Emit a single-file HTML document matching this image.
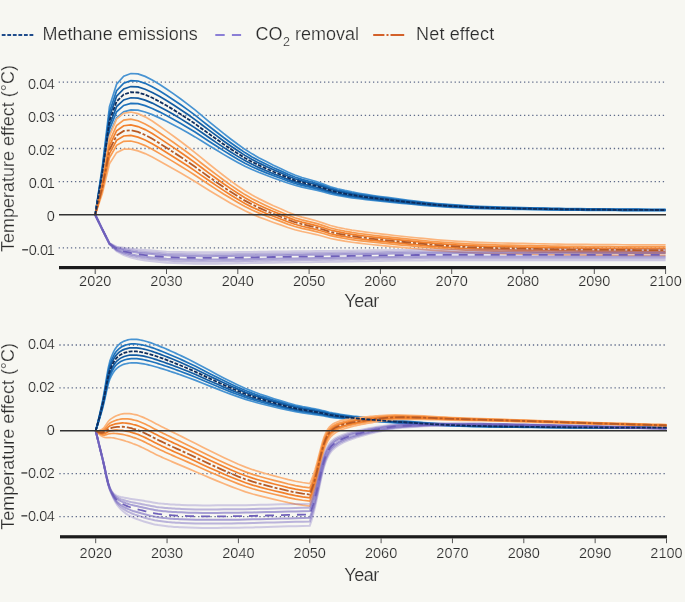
<!DOCTYPE html>
<html><head><meta charset="utf-8"><style>
html,body{margin:0;padding:0;background:#f7f7f2;}
body{width:685px;height:602px;overflow:hidden;font-family:"Liberation Sans", sans-serif;}
svg{display:block;will-change:transform;}
text{stroke:#f7f7f2;stroke-width:0.22px;paint-order:normal;}
</style></head><body>
<svg width="685" height="602" viewBox="0 0 685 602" font-family="Liberation Sans, sans-serif">
<rect width="685" height="602" fill="#f7f7f2"/>
<line x1="1.75" y1="35" x2="33.3" y2="35" stroke="#1f4c8c" stroke-width="1.8" stroke-dasharray="3.8 1.75"/>
<text x="42.6" y="40.3" font-size="18" fill="#2b2b2b">Methane emissions</text>
<line x1="215.3" y1="35" x2="241.1" y2="35" stroke="#8b7fd6" stroke-width="1.8" stroke-dasharray="9.4 7.2"/>
<text x="255.5" y="40.3" font-size="18" fill="#2b2b2b">CO<tspan font-size="12.5" dy="5.4" dx="0.6">2</tspan><tspan dy="-5.4"> removal</tspan></text>
<line x1="373.2" y1="35" x2="404.2" y2="35" stroke="#d3612a" stroke-width="1.8" stroke-dasharray="11.2 2.1 2 2 14"/>
<text x="416.1" y="40.3" font-size="18" letter-spacing="0.15" fill="#2b2b2b">Net effect</text>
<line x1="58.65" y1="82.20" x2="665" y2="82.20" stroke="#5f6b8a" stroke-width="1.3" stroke-dasharray="1.3 2.782"/>
<line x1="58.65" y1="115.35" x2="665" y2="115.35" stroke="#5f6b8a" stroke-width="1.3" stroke-dasharray="1.3 2.782"/>
<line x1="58.65" y1="148.50" x2="665" y2="148.50" stroke="#5f6b8a" stroke-width="1.3" stroke-dasharray="1.3 2.782"/>
<line x1="58.65" y1="181.65" x2="665" y2="181.65" stroke="#5f6b8a" stroke-width="1.3" stroke-dasharray="1.3 2.782"/>
<line x1="58.65" y1="247.95" x2="665" y2="247.95" stroke="#5f6b8a" stroke-width="1.3" stroke-dasharray="1.3 2.782"/>
<polyline points="95.20,214.80 102.33,166.30 109.46,106.73 116.59,84.19 123.72,76.17 130.85,73.50 137.98,73.92 145.11,76.39 152.24,79.97 159.37,84.31 166.50,88.94 173.63,93.85 180.76,99.00 187.89,104.33 195.02,109.91 202.15,115.85 209.28,121.80 216.41,127.64 223.54,133.43 230.67,138.96 237.80,144.27 244.93,149.32 252.06,153.85 259.19,157.88 266.32,161.62 273.45,165.19 280.58,168.55 287.71,172.00 294.84,175.08 301.97,177.45 309.10,179.49 316.23,181.56 323.36,184.09 330.49,186.76 337.62,188.75 344.75,190.45 351.88,191.93 359.01,193.22 366.14,194.39 373.27,195.47 380.40,196.47 387.53,197.46 394.66,198.44 401.79,199.39 408.92,200.29 416.05,201.17 423.18,202.03 430.31,202.83 437.44,203.54 444.57,204.14 451.70,204.70 458.83,205.21 465.96,205.67 473.09,206.07 480.22,206.40 487.35,206.67 494.48,206.90 501.61,207.10 508.74,207.29 515.87,207.46 523.00,207.63 530.13,207.79 537.26,207.95 544.39,208.11 551.52,208.25 558.65,208.39 565.78,208.50 572.91,208.61 580.04,208.69 587.17,208.76 594.30,208.83 601.43,208.90 608.56,208.97 615.69,209.03 622.82,209.08 629.95,209.14 637.08,209.18 644.21,209.21 651.34,209.24 658.47,209.26 665.60,209.26" fill="none" stroke="#4793d2" stroke-width="1.7"/>
<polyline points="95.20,214.80 102.33,178.78 109.46,134.53 116.59,117.80 123.72,111.84 130.85,109.86 137.98,110.17 145.11,112.00 152.24,114.66 159.37,117.88 166.50,121.32 173.63,124.97 180.76,128.79 187.89,132.75 195.02,136.90 202.15,141.31 209.28,145.73 216.41,150.06 223.54,154.37 230.67,158.47 237.80,162.42 244.93,166.17 252.06,169.53 259.19,172.53 266.32,175.31 273.45,177.95 280.58,180.45 287.71,183.01 294.84,185.30 301.97,187.06 309.10,188.57 316.23,190.11 323.36,191.99 330.49,193.97 337.62,195.45 344.75,196.71 351.88,197.81 359.01,198.78 366.14,199.64 373.27,200.45 380.40,201.19 387.53,201.92 394.66,202.65 401.79,203.35 408.92,204.02 416.05,204.67 423.18,205.31 430.31,205.91 437.44,206.44 444.57,206.88 451.70,207.30 458.83,207.68 465.96,208.02 473.09,208.32 480.22,208.56 487.35,208.76 494.48,208.93 501.61,209.08 508.74,209.22 515.87,209.35 523.00,209.47 530.13,209.59 537.26,209.71 544.39,209.83 551.52,209.94 558.65,210.04 565.78,210.12 572.91,210.20 580.04,210.26 587.17,210.32 594.30,210.37 601.43,210.42 608.56,210.47 615.69,210.51 622.82,210.56 629.95,210.59 637.08,210.62 644.21,210.65 651.34,210.67 658.47,210.68 665.60,210.69" fill="none" stroke="#4793d2" stroke-width="1.7"/>
<polyline points="95.20,214.80 102.33,168.73 109.46,112.14 116.59,90.74 123.72,83.13 130.85,80.59 137.98,80.99 145.11,83.33 152.24,86.73 159.37,90.85 166.50,95.25 173.63,99.92 180.76,104.80 187.89,109.87 195.02,115.17 202.15,120.81 209.28,126.46 216.41,132.01 223.54,137.51 230.67,142.76 237.80,147.81 244.93,152.60 252.06,156.90 259.19,160.74 266.32,164.29 273.45,167.68 280.58,170.87 287.71,174.14 294.84,177.07 301.97,179.33 309.10,181.26 316.23,183.22 323.36,185.63 330.49,188.16 337.62,190.05 344.75,191.67 351.88,193.08 359.01,194.31 366.14,195.41 373.27,196.44 380.40,197.39 387.53,198.33 394.66,199.26 401.79,200.16 408.92,201.02 416.05,201.85 423.18,202.67 430.31,203.43 437.44,204.10 444.57,204.67 451.70,205.20 458.83,205.69 465.96,206.13 473.09,206.51 480.22,206.82 487.35,207.07 494.48,207.30 501.61,207.49 508.74,207.67 515.87,207.83 523.00,207.99 530.13,208.14 537.26,208.30 544.39,208.44 551.52,208.58 558.65,208.71 565.78,208.82 572.91,208.92 580.04,209.00 587.17,209.06 594.30,209.13 601.43,209.20 608.56,209.26 615.69,209.32 622.82,209.37 629.95,209.42 637.08,209.46 644.21,209.49 651.34,209.52 658.47,209.53 665.60,209.54" fill="none" stroke="#1e72bc" stroke-width="1.7"/>
<polyline points="95.20,214.80 102.33,176.54 109.46,129.54 116.59,111.77 123.72,105.44 130.85,103.33 137.98,103.66 145.11,105.61 152.24,108.44 159.37,111.86 166.50,115.51 173.63,119.38 180.76,123.45 187.89,127.65 195.02,132.06 202.15,136.74 209.28,141.43 216.41,146.04 223.54,150.61 230.67,154.97 237.80,159.16 244.93,163.14 252.06,166.71 259.19,169.90 266.32,172.85 273.45,175.66 280.58,178.31 287.71,181.03 294.84,183.47 301.97,185.34 309.10,186.94 316.23,188.57 323.36,190.57 330.49,192.68 337.62,194.25 344.75,195.59 351.88,196.76 359.01,197.78 366.14,198.70 373.27,199.55 380.40,200.34 387.53,201.12 394.66,201.89 401.79,202.64 408.92,203.35 416.05,204.04 423.18,204.72 430.31,205.36 437.44,205.92 444.57,206.39 451.70,206.83 458.83,207.23 465.96,207.60 473.09,207.91 480.22,208.17 487.35,208.38 494.48,208.57 501.61,208.73 508.74,208.87 515.87,209.01 523.00,209.14 530.13,209.27 537.26,209.40 544.39,209.52 551.52,209.63 558.65,209.74 565.78,209.83 572.91,209.91 580.04,209.98 587.17,210.04 594.30,210.09 601.43,210.15 608.56,210.20 615.69,210.25 622.82,210.29 629.95,210.33 637.08,210.37 644.21,210.39 651.34,210.41 658.47,210.43 665.60,210.43" fill="none" stroke="#1e72bc" stroke-width="1.7"/>
<polyline points="95.20,214.80 102.33,170.78 109.46,116.71 116.59,96.26 123.72,88.98 130.85,86.55 137.98,86.94 145.11,89.18 152.24,92.43 159.37,96.36 166.50,100.56 173.63,105.02 180.76,109.69 187.89,114.54 195.02,119.60 202.15,124.99 209.28,130.39 216.41,135.69 223.54,140.95 230.67,145.96 237.80,150.79 244.93,155.37 252.06,159.48 259.19,163.14 266.32,166.54 273.45,169.77 280.58,172.82 287.71,175.95 294.84,178.75 301.97,180.90 309.10,182.75 316.23,184.63 323.36,186.93 330.49,189.35 337.62,191.15 344.75,192.70 351.88,194.04 359.01,195.22 366.14,196.27 373.27,197.26 380.40,198.16 387.53,199.06 394.66,199.95 401.79,200.81 408.92,201.63 416.05,202.42 423.18,203.21 430.31,203.94 437.44,204.58 444.57,205.12 451.70,205.63 458.83,206.10 465.96,206.52 473.09,206.88 480.22,207.17 487.35,207.42 494.48,207.63 501.61,207.81 508.74,207.98 515.87,208.14 523.00,208.29 530.13,208.44 537.26,208.59 544.39,208.72 551.52,208.86 558.65,208.98 565.78,209.09 572.91,209.18 580.04,209.25 587.17,209.32 594.30,209.38 601.43,209.45 608.56,209.51 615.69,209.56 622.82,209.61 629.95,209.66 637.08,209.70 644.21,209.73 651.34,209.75 658.47,209.77 665.60,209.77" fill="none" stroke="#135ca2" stroke-width="1.7"/>
<polyline points="95.20,214.80 102.33,174.62 109.46,125.26 116.59,106.60 123.72,99.95 130.85,97.74 137.98,98.09 145.11,100.13 152.24,103.10 159.37,106.69 166.50,110.53 173.63,114.60 180.76,118.86 187.89,123.28 195.02,127.90 202.15,132.82 209.28,137.75 216.41,142.59 223.54,147.39 230.67,151.97 237.80,156.37 244.93,160.55 252.06,164.30 259.19,167.65 266.32,170.75 273.45,173.70 280.58,176.48 287.71,179.34 294.84,181.90 301.97,183.86 309.10,185.54 316.23,187.26 323.36,189.36 330.49,191.57 337.62,193.22 344.75,194.62 351.88,195.85 359.01,196.93 366.14,197.89 373.27,198.79 380.40,199.61 387.53,200.43 394.66,201.24 401.79,202.03 408.92,202.78 416.05,203.50 423.18,204.22 430.31,204.89 437.44,205.47 444.57,205.97 451.70,206.43 458.83,206.86 465.96,207.24 473.09,207.57 480.22,207.84 487.35,208.06 494.48,208.25 501.61,208.42 508.74,208.58 515.87,208.72 523.00,208.86 530.13,208.99 537.26,209.13 544.39,209.25 551.52,209.38 558.65,209.49 565.78,209.58 572.91,209.67 580.04,209.74 587.17,209.80 594.30,209.86 601.43,209.91 608.56,209.97 615.69,210.02 622.82,210.07 629.95,210.11 637.08,210.14 644.21,210.17 651.34,210.19 658.47,210.21 665.60,210.21" fill="none" stroke="#135ca2" stroke-width="1.7"/>
<polyline points="95.20,214.80 102.33,181.20 109.46,136.27 116.59,119.05 123.72,113.20 130.85,112.04 137.98,113.66 145.11,116.87 152.24,121.05 159.37,126.00 166.50,131.12 173.63,136.25 180.76,141.53 187.89,146.95 195.02,152.55 202.15,158.42 209.28,164.25 216.41,169.92 223.54,175.51 230.67,180.84 237.80,185.94 244.93,190.77 252.06,195.06 259.19,198.87 266.32,202.37 273.45,205.70 280.58,208.83 287.71,212.04 294.84,214.90 301.97,217.07 309.10,218.92 316.23,220.79 323.36,223.10 330.49,225.52 337.62,227.30 344.75,228.79 351.88,230.07 359.01,231.16 366.14,232.13 373.27,233.03 380.40,233.85 387.53,234.66 394.66,235.47 401.79,236.25 408.92,237.00 416.05,237.74 423.18,238.47 430.31,239.17 437.44,239.80 444.57,240.34 451.70,240.84 458.83,241.30 465.96,241.72 473.09,242.08 480.22,242.37 487.35,242.61 494.48,242.81 501.61,243.00 508.74,243.16 515.87,243.31 523.00,243.46 530.13,243.61 537.26,243.75 544.39,243.89 551.52,244.02 558.65,244.14 565.78,244.24 572.91,244.33 580.04,244.41 587.17,244.47 594.30,244.53 601.43,244.59 608.56,244.65 615.69,244.71 622.82,244.76 629.95,244.80 637.08,244.84 644.21,244.87 651.34,244.89 658.47,244.91 665.60,244.91" fill="none" stroke="#fbb47c" stroke-width="1.7"/>
<polyline points="95.20,214.80 102.33,193.56 109.46,163.81 116.59,152.61 123.72,149.22 130.85,149.07 137.98,150.84 145.11,153.60 152.24,157.00 159.37,160.97 166.50,165.01 173.63,168.98 180.76,173.05 187.89,177.22 195.02,181.52 202.15,186.01 209.28,190.45 216.41,194.78 223.54,199.06 230.67,203.14 237.80,207.08 244.93,210.81 252.06,214.14 259.19,217.10 266.32,219.83 273.45,222.45 280.58,224.92 287.71,227.49 294.84,229.78 301.97,231.53 309.10,233.02 316.23,234.55 323.36,236.45 330.49,238.47 337.62,239.95 344.75,241.19 351.88,242.26 359.01,243.18 366.14,243.99 373.27,244.74 380.40,245.42 387.53,246.11 394.66,246.80 401.79,247.47 408.92,248.12 416.05,248.77 423.18,249.43 430.31,250.06 437.44,250.64 444.57,251.14 451.70,251.61 458.83,252.04 465.96,252.42 473.09,252.76 480.22,253.04 487.35,253.26 494.48,253.46 501.61,253.63 508.74,253.79 515.87,253.93 523.00,254.07 530.13,254.21 537.26,254.35 544.39,254.48 551.52,254.60 558.65,254.71 565.78,254.82 572.91,254.90 580.04,254.97 587.17,255.03 594.30,255.09 601.43,255.15 608.56,255.21 615.69,255.26 622.82,255.31 629.95,255.35 637.08,255.39 644.21,255.42 651.34,255.44 658.47,255.45 665.60,255.46" fill="none" stroke="#fbb47c" stroke-width="1.7"/>
<polyline points="95.20,214.80 102.33,183.57 109.46,141.55 116.59,125.49 123.72,120.11 130.85,119.14 137.98,120.79 145.11,123.91 152.24,127.94 159.37,132.71 166.50,137.62 173.63,142.52 180.76,147.57 187.89,152.75 195.02,158.10 202.15,163.71 209.28,169.27 216.41,174.68 223.54,180.03 230.67,185.11 237.80,189.99 244.93,194.61 252.06,198.72 259.19,202.36 266.32,205.72 273.45,208.91 280.58,211.91 287.71,215.00 294.84,217.75 301.97,219.84 309.10,221.62 316.23,223.43 323.36,225.66 330.49,228.01 337.62,229.73 344.75,231.17 351.88,232.41 359.01,233.47 366.14,234.41 373.27,235.28 380.40,236.07 387.53,236.85 394.66,237.64 401.79,238.40 408.92,239.13 416.05,239.85 423.18,240.58 430.31,241.26 437.44,241.88 444.57,242.41 451.70,242.91 458.83,243.36 465.96,243.77 473.09,244.12 480.22,244.41 487.35,244.65 494.48,244.85 501.61,245.04 508.74,245.20 515.87,245.35 523.00,245.50 530.13,245.64 537.26,245.78 544.39,245.92 551.52,246.05 558.65,246.16 565.78,246.27 572.91,246.36 580.04,246.43 587.17,246.50 594.30,246.56 601.43,246.62 608.56,246.68 615.69,246.73 622.82,246.78 629.95,246.82 637.08,246.86 644.21,246.89 651.34,246.92 658.47,246.93 665.60,246.94" fill="none" stroke="#f89a4f" stroke-width="1.7"/>
<polyline points="95.20,214.80 102.33,190.87 109.46,157.82 116.59,145.31 123.72,141.38 130.85,141.01 137.98,142.75 145.11,145.60 152.24,149.18 159.37,153.36 166.50,157.64 173.63,161.86 180.76,166.19 187.89,170.63 195.02,175.21 202.15,180.01 209.28,184.75 216.41,189.37 223.54,193.94 230.67,198.29 237.80,202.48 244.93,206.45 252.06,209.99 259.19,213.13 266.32,216.03 273.45,218.80 280.58,221.42 287.71,224.12 294.84,226.54 301.97,228.38 309.10,229.95 316.23,231.56 323.36,233.55 330.49,235.65 337.62,237.20 344.75,238.49 351.88,239.61 359.01,240.56 366.14,241.41 373.27,242.19 380.40,242.90 387.53,243.62 394.66,244.33 401.79,245.03 408.92,245.70 416.05,246.37 423.18,247.05 430.31,247.69 437.44,248.28 444.57,248.79 451.70,249.26 458.83,249.70 465.96,250.09 473.09,250.43 480.22,250.71 487.35,250.94 494.48,251.14 501.61,251.32 508.74,251.47 515.87,251.62 523.00,251.76 530.13,251.90 537.26,252.04 544.39,252.17 551.52,252.30 558.65,252.41 565.78,252.51 572.91,252.60 580.04,252.67 587.17,252.74 594.30,252.80 601.43,252.85 608.56,252.91 615.69,252.96 622.82,253.01 629.95,253.06 637.08,253.09 644.21,253.12 651.34,253.15 658.47,253.16 665.60,253.16" fill="none" stroke="#f89a4f" stroke-width="1.7"/>
<polyline points="95.20,214.80 102.33,185.49 109.46,145.83 116.59,130.70 123.72,125.71 130.85,124.90 137.98,126.57 145.11,129.62 152.24,133.53 159.37,138.14 166.50,142.89 173.63,147.61 180.76,152.47 187.89,157.46 195.02,162.60 202.15,168.00 209.28,173.34 216.41,178.55 223.54,183.69 230.67,188.58 237.80,193.28 244.93,197.72 252.06,201.69 259.19,205.20 266.32,208.43 273.45,211.51 280.58,214.41 287.71,217.40 294.84,220.07 301.97,222.09 309.10,223.81 316.23,225.57 323.36,227.74 330.49,230.02 337.62,231.69 344.75,233.10 351.88,234.30 359.01,235.34 366.14,236.25 373.27,237.10 380.40,237.87 387.53,238.63 394.66,239.40 401.79,240.15 408.92,240.86 416.05,241.57 423.18,242.28 430.31,242.95 437.44,243.56 444.57,244.09 451.70,244.58 458.83,245.03 465.96,245.43 473.09,245.78 480.22,246.07 487.35,246.31 494.48,246.51 501.61,246.69 508.74,246.85 515.87,247.00 523.00,247.15 530.13,247.29 537.26,247.43 544.39,247.57 551.52,247.69 558.65,247.81 565.78,247.91 572.91,248.00 580.04,248.07 587.17,248.14 594.30,248.20 601.43,248.26 608.56,248.32 615.69,248.37 622.82,248.42 629.95,248.46 637.08,248.50 644.21,248.53 651.34,248.56 658.47,248.57 665.60,248.57" fill="none" stroke="#f2802c" stroke-width="1.7"/>
<polyline points="95.20,214.80 102.33,189.01 109.46,153.68 116.59,140.27 123.72,135.97 130.85,135.45 137.98,137.16 145.11,140.08 152.24,143.78 159.37,148.10 166.50,152.54 173.63,156.94 180.76,161.46 187.89,166.08 195.02,170.86 202.15,175.86 209.28,180.81 216.41,185.63 223.54,190.40 230.67,194.94 237.80,199.30 244.93,203.43 252.06,207.12 259.19,210.39 266.32,213.41 273.45,216.29 280.58,219.00 287.71,221.80 294.84,224.31 301.97,226.21 309.10,227.83 316.23,229.49 323.36,231.54 330.49,233.71 337.62,235.30 344.75,236.63 351.88,237.78 359.01,238.76 366.14,239.63 373.27,240.43 380.40,241.17 387.53,241.90 394.66,242.63 401.79,243.34 408.92,244.03 416.05,244.71 423.18,245.40 430.31,246.06 437.44,246.65 444.57,247.17 451.70,247.65 458.83,248.09 465.96,248.49 473.09,248.83 480.22,249.11 487.35,249.34 494.48,249.54 501.61,249.72 508.74,249.88 515.87,250.03 523.00,250.17 530.13,250.31 537.26,250.45 544.39,250.58 551.52,250.71 558.65,250.82 565.78,250.93 572.91,251.01 580.04,251.09 587.17,251.15 594.30,251.21 601.43,251.27 608.56,251.33 615.69,251.38 622.82,251.43 629.95,251.47 637.08,251.51 644.21,251.54 651.34,251.56 658.47,251.58 665.60,251.58" fill="none" stroke="#f2802c" stroke-width="1.7"/>
<polyline points="95.20,214.80 102.33,229.62 109.46,244.22 116.59,251.25 123.72,254.96 130.85,257.45 137.98,259.31 145.11,260.45 152.24,261.32 159.37,262.12 166.50,262.76 173.63,263.10 180.76,263.34 187.89,263.54 195.02,263.67 202.15,263.71 209.28,263.69 216.41,263.63 223.54,263.54 230.67,263.44 237.80,263.34 244.93,263.23 252.06,263.11 259.19,262.98 266.32,262.84 273.45,262.71 280.58,262.58 287.71,262.47 294.84,262.36 301.97,262.25 309.10,262.14 316.23,262.04 323.36,261.94 330.49,261.83 337.62,261.72 344.75,261.60 351.88,261.47 359.01,261.34 366.14,261.21 373.27,261.08 380.40,260.95 387.53,260.82 394.66,260.71 401.79,260.60 408.92,260.51 416.05,260.43 423.18,260.38 430.31,260.34 437.44,260.33 444.57,260.33 451.70,260.33 458.83,260.33 465.96,260.33 473.09,260.33 480.22,260.33 487.35,260.33 494.48,260.33 501.61,260.33 508.74,260.33 515.87,260.33 523.00,260.33 530.13,260.33 537.26,260.33 544.39,260.33 551.52,260.33 558.65,260.33 565.78,260.33 572.91,260.33 580.04,260.33 587.17,260.33 594.30,260.33 601.43,260.33 608.56,260.33 615.69,260.33 622.82,260.33 629.95,260.33 637.08,260.33 644.21,260.33 651.34,260.33 658.47,260.33 665.60,260.33" fill="none" stroke="#6f60bd" stroke-opacity="0.3" stroke-width="2"/>
<polyline points="95.20,214.80 102.33,229.16 109.46,243.09 116.59,246.75 123.72,247.76 130.85,248.62 137.98,249.44 145.11,250.00 152.24,250.53 159.37,251.14 166.50,251.64 173.63,251.90 180.76,252.08 187.89,252.23 195.02,252.33 202.15,252.37 209.28,252.35 216.41,252.30 223.54,252.23 230.67,252.16 237.80,252.08 244.93,252.00 252.06,251.91 259.19,251.80 266.32,251.70 273.45,251.60 280.58,251.50 287.71,251.41 294.84,251.33 301.97,251.25 309.10,251.16 316.23,251.08 323.36,251.00 330.49,250.92 337.62,250.84 344.75,250.75 351.88,250.65 359.01,250.55 366.14,250.45 373.27,250.34 380.40,250.24 387.53,250.15 394.66,250.06 401.79,249.98 408.92,249.91 416.05,249.85 423.18,249.80 430.31,249.78 437.44,249.77 444.57,249.77 451.70,249.77 458.83,249.77 465.96,249.77 473.09,249.77 480.22,249.77 487.35,249.77 494.48,249.77 501.61,249.77 508.74,249.77 515.87,249.77 523.00,249.77 530.13,249.77 537.26,249.77 544.39,249.77 551.52,249.77 558.65,249.77 565.78,249.77 572.91,249.77 580.04,249.77 587.17,249.77 594.30,249.77 601.43,249.77 608.56,249.77 615.69,249.77 622.82,249.77 629.95,249.77 637.08,249.77 644.21,249.77 651.34,249.77 658.47,249.77 665.60,249.77" fill="none" stroke="#6f60bd" stroke-opacity="0.3" stroke-width="2"/>
<polyline points="95.20,214.80 102.33,229.53 109.46,244.00 116.59,250.37 123.72,253.55 130.85,255.73 137.98,257.39 145.11,258.41 152.24,259.21 159.37,259.98 166.50,260.60 173.63,260.91 180.76,261.15 187.89,261.33 195.02,261.46 202.15,261.50 209.28,261.48 216.41,261.42 223.54,261.33 230.67,261.24 237.80,261.14 244.93,261.04 252.06,260.93 259.19,260.80 266.32,260.67 273.45,260.54 280.58,260.42 287.71,260.32 294.84,260.21 301.97,260.11 309.10,260.00 316.23,259.90 323.36,259.81 330.49,259.71 337.62,259.60 344.75,259.49 351.88,259.37 359.01,259.24 366.14,259.11 373.27,258.99 380.40,258.86 387.53,258.74 394.66,258.63 401.79,258.53 408.92,258.44 416.05,258.37 423.18,258.32 430.31,258.28 437.44,258.27 444.57,258.27 451.70,258.27 458.83,258.27 465.96,258.27 473.09,258.27 480.22,258.27 487.35,258.27 494.48,258.27 501.61,258.27 508.74,258.27 515.87,258.27 523.00,258.27 530.13,258.27 537.26,258.27 544.39,258.27 551.52,258.27 558.65,258.27 565.78,258.27 572.91,258.27 580.04,258.27 587.17,258.27 594.30,258.27 601.43,258.27 608.56,258.27 615.69,258.27 622.82,258.27 629.95,258.27 637.08,258.27 644.21,258.27 651.34,258.27 658.47,258.27 665.60,258.27" fill="none" stroke="#6f60bd" stroke-opacity="0.45" stroke-width="2"/>
<polyline points="95.20,214.80 102.33,229.24 109.46,243.29 116.59,247.56 123.72,249.05 130.85,250.21 137.98,251.21 145.11,251.88 152.24,252.46 159.37,253.11 166.50,253.64 173.63,253.91 180.76,254.10 187.89,254.26 195.02,254.37 202.15,254.40 209.28,254.38 216.41,254.33 223.54,254.26 230.67,254.18 237.80,254.10 244.93,254.02 252.06,253.92 259.19,253.81 266.32,253.70 273.45,253.59 280.58,253.49 287.71,253.40 294.84,253.31 301.97,253.22 309.10,253.13 316.23,253.05 323.36,252.97 330.49,252.88 337.62,252.79 344.75,252.70 351.88,252.59 359.01,252.49 366.14,252.38 373.27,252.27 380.40,252.16 387.53,252.06 394.66,251.97 401.79,251.88 408.92,251.81 416.05,251.75 423.18,251.70 430.31,251.67 437.44,251.66 444.57,251.66 451.70,251.66 458.83,251.66 465.96,251.66 473.09,251.66 480.22,251.66 487.35,251.66 494.48,251.66 501.61,251.66 508.74,251.66 515.87,251.66 523.00,251.66 530.13,251.66 537.26,251.66 544.39,251.66 551.52,251.66 558.65,251.66 565.78,251.66 572.91,251.66 580.04,251.66 587.17,251.66 594.30,251.66 601.43,251.66 608.56,251.66 615.69,251.66 622.82,251.66 629.95,251.66 637.08,251.66 644.21,251.66 651.34,251.66 658.47,251.66 665.60,251.66" fill="none" stroke="#6f60bd" stroke-opacity="0.45" stroke-width="2"/>
<polyline points="95.20,214.80 102.33,229.46 109.46,243.82 116.59,249.64 123.72,252.37 130.85,254.28 137.98,255.77 145.11,256.70 152.24,257.44 159.37,258.18 166.50,258.77 173.63,259.08 180.76,259.30 187.89,259.48 195.02,259.60 202.15,259.64 209.28,259.62 216.41,259.56 223.54,259.48 230.67,259.39 237.80,259.30 244.93,259.20 252.06,259.09 259.19,258.97 266.32,258.84 273.45,258.72 280.58,258.61 287.71,258.50 294.84,258.40 301.97,258.30 309.10,258.20 316.23,258.11 323.36,258.01 330.49,257.92 337.62,257.81 344.75,257.71 351.88,257.59 359.01,257.47 366.14,257.35 373.27,257.22 380.40,257.10 387.53,256.99 394.66,256.88 401.79,256.79 408.92,256.70 416.05,256.63 423.18,256.58 430.31,256.55 437.44,256.54 444.57,256.54 451.70,256.54 458.83,256.54 465.96,256.54 473.09,256.54 480.22,256.54 487.35,256.54 494.48,256.54 501.61,256.54 508.74,256.54 515.87,256.54 523.00,256.54 530.13,256.54 537.26,256.54 544.39,256.54 551.52,256.54 558.65,256.54 565.78,256.54 572.91,256.54 580.04,256.54 587.17,256.54 594.30,256.54 601.43,256.54 608.56,256.54 615.69,256.54 622.82,256.54 629.95,256.54 637.08,256.54 644.21,256.54 651.34,256.54 658.47,256.54 665.60,256.54" fill="none" stroke="#6f60bd" stroke-opacity="0.58" stroke-width="2"/>
<polyline points="95.20,214.80 102.33,229.32 109.46,243.47 116.59,248.25 123.72,250.16 130.85,251.56 137.98,252.73 145.11,253.48 152.24,254.12 159.37,254.80 166.50,255.35 173.63,255.63 180.76,255.84 187.89,256.00 195.02,256.11 202.15,256.15 209.28,256.13 216.41,256.08 223.54,256.00 230.67,255.92 237.80,255.83 244.93,255.74 252.06,255.64 259.19,255.53 266.32,255.41 273.45,255.30 280.58,255.20 287.71,255.10 294.84,255.01 301.97,254.91 309.10,254.82 316.23,254.74 323.36,254.65 330.49,254.56 337.62,254.47 344.75,254.37 351.88,254.26 359.01,254.15 366.14,254.03 373.27,253.92 380.40,253.81 387.53,253.71 394.66,253.61 401.79,253.52 408.92,253.44 416.05,253.38 423.18,253.33 430.31,253.30 437.44,253.29 444.57,253.29 451.70,253.29 458.83,253.29 465.96,253.29 473.09,253.29 480.22,253.29 487.35,253.29 494.48,253.29 501.61,253.29 508.74,253.29 515.87,253.29 523.00,253.29 530.13,253.29 537.26,253.29 544.39,253.29 551.52,253.29 558.65,253.29 565.78,253.29 572.91,253.29 580.04,253.29 587.17,253.29 594.30,253.29 601.43,253.29 608.56,253.29 615.69,253.29 622.82,253.29 629.95,253.29 637.08,253.29 644.21,253.29 651.34,253.29 658.47,253.29 665.60,253.29" fill="none" stroke="#6f60bd" stroke-opacity="0.58" stroke-width="2"/>
<polyline points="95.20,214.80 102.33,229.39 109.46,243.64 116.59,248.94 123.72,251.27 130.85,252.92 137.98,254.25 145.11,255.09 152.24,255.78 159.37,256.49 166.50,257.06 173.63,257.35 180.76,257.57 187.89,257.74 195.02,257.85 202.15,257.89 209.28,257.87 216.41,257.82 223.54,257.74 230.67,257.65 237.80,257.56 244.93,257.47 252.06,257.36 259.19,257.25 266.32,257.13 273.45,257.01 280.58,256.90 287.71,256.80 294.84,256.70 301.97,256.61 309.10,256.51 316.23,256.42 323.36,256.33 330.49,256.24 337.62,256.14 344.75,256.04 351.88,255.92 359.01,255.81 366.14,255.69 373.27,255.57 380.40,255.46 387.53,255.35 394.66,255.25 401.79,255.15 408.92,255.07 416.05,255.01 423.18,254.95 430.31,254.92 437.44,254.91 444.57,254.91 451.70,254.91 458.83,254.91 465.96,254.91 473.09,254.91 480.22,254.91 487.35,254.91 494.48,254.91 501.61,254.91 508.74,254.91 515.87,254.91 523.00,254.91 530.13,254.91 537.26,254.91 544.39,254.91 551.52,254.91 558.65,254.91 565.78,254.91 572.91,254.91 580.04,254.91 587.17,254.91 594.30,254.91 601.43,254.91 608.56,254.91 615.69,254.91 622.82,254.91 629.95,254.91 637.08,254.91 644.21,254.91 651.34,254.91 658.47,254.91 665.60,254.91" fill="none" stroke="#6f60ba" stroke-width="1.8" stroke-dasharray="9 7"/>
<polyline points="95.20,214.80 102.33,187.29 109.46,149.83 116.59,135.57 123.72,130.93 130.85,130.27 137.98,131.96 145.11,134.95 152.24,138.75 159.37,143.21 166.50,147.80 173.63,152.36 180.76,157.05 187.89,161.85 195.02,166.81 202.15,172.00 209.28,177.15 216.41,182.16 223.54,187.11 230.67,191.82 237.80,196.34 244.93,200.63 252.06,204.45 259.19,207.84 266.32,210.97 273.45,213.94 280.58,216.75 287.71,219.64 294.84,222.23 301.97,224.19 309.10,225.86 316.23,227.56 323.36,229.67 330.49,231.90 337.62,233.53 344.75,234.90 351.88,236.07 359.01,237.08 366.14,237.97 373.27,238.80 380.40,239.55 387.53,240.30 394.66,241.04 401.79,241.77 408.92,242.48 416.05,243.17 423.18,243.87 430.31,244.53 437.44,245.14 444.57,245.66 451.70,246.14 458.83,246.59 465.96,246.99 473.09,247.33 480.22,247.62 487.35,247.85 494.48,248.05 501.61,248.23 508.74,248.39 515.87,248.54 523.00,248.69 530.13,248.83 537.26,248.97 544.39,249.10 551.52,249.23 558.65,249.34 565.78,249.45 572.91,249.54 580.04,249.61 587.17,249.67 594.30,249.73 601.43,249.79 608.56,249.85 615.69,249.90 622.82,249.95 629.95,249.99 637.08,250.03 644.21,250.06 651.34,250.09 658.47,250.10 665.60,250.10" fill="none" stroke="#b75a25" stroke-width="1.8" stroke-dasharray="9.5 2 3 2"/>
<polyline points="95.20,214.80 102.33,172.70 109.46,120.99 116.59,101.43 123.72,94.47 130.85,92.15 137.98,92.51 145.11,94.65 152.24,97.76 159.37,101.52 166.50,105.55 173.63,109.81 180.76,114.28 187.89,118.91 195.02,123.75 202.15,128.91 209.28,134.07 216.41,139.14 223.54,144.17 230.67,148.97 237.80,153.58 244.93,157.96 252.06,161.89 259.19,165.39 266.32,168.64 273.45,171.73 280.58,174.65 287.71,177.64 294.84,180.32 301.97,182.38 309.10,184.15 316.23,185.94 323.36,188.14 330.49,190.46 337.62,192.19 344.75,193.66 351.88,194.95 359.01,196.07 366.14,197.08 373.27,198.02 380.40,198.89 387.53,199.75 394.66,200.60 401.79,201.42 408.92,202.20 416.05,202.96 423.18,203.71 430.31,204.41 437.44,205.02 444.57,205.54 451.70,206.03 458.83,206.48 465.96,206.88 473.09,207.22 480.22,207.51 487.35,207.74 494.48,207.94 501.61,208.12 508.74,208.28 515.87,208.43 523.00,208.57 530.13,208.72 537.26,208.86 544.39,208.99 551.52,209.12 558.65,209.23 565.78,209.34 572.91,209.42 580.04,209.50 587.17,209.56 594.30,209.62 601.43,209.68 608.56,209.74 615.69,209.79 622.82,209.84 629.95,209.88 637.08,209.92 644.21,209.95 651.34,209.97 658.47,209.99 665.60,209.99" fill="none" stroke="#0d2c5c" stroke-width="1.8" stroke-dasharray="3.9 1.4"/>
<line x1="59" y1="214.80" x2="666" y2="214.80" stroke="#333" stroke-width="1.4"/>
<text x="54.4" y="88.80" text-anchor="end" font-size="14.5" letter-spacing="-0.45" fill="#2b2b2b">0.04</text>
<text x="54.4" y="121.95" text-anchor="end" font-size="14.5" letter-spacing="-0.45" fill="#2b2b2b">0.03</text>
<text x="54.4" y="155.10" text-anchor="end" font-size="14.5" letter-spacing="-0.45" fill="#2b2b2b">0.02</text>
<text x="54.4" y="188.25" text-anchor="end" font-size="14.5" letter-spacing="-0.45" fill="#2b2b2b">0.0<tspan dx="-0.8">1</tspan></text>
<text x="54.4" y="221.40" text-anchor="end" font-size="14.5" letter-spacing="-0.45" fill="#2b2b2b">0</text>
<text x="54.4" y="254.55" text-anchor="end" font-size="14.5" letter-spacing="-0.45" fill="#2b2b2b">0.0<tspan dx="-0.8">1</tspan></text>
<line x1="22.20" y1="249.80" x2="28.10" y2="249.80" stroke="#2b2b2b" stroke-width="1.25"/>
<rect x="59" y="266.00" width="607.00" height="3.2" fill="#1b1b1b"/>
<line x1="95.20" y1="269.00" x2="95.20" y2="274.00" stroke="#555" stroke-width="1"/>
<text x="95.20" y="286.20" text-anchor="middle" font-size="14.5" fill="#2b2b2b">2020</text>
<line x1="166.50" y1="269.00" x2="166.50" y2="274.00" stroke="#555" stroke-width="1"/>
<text x="166.50" y="286.20" text-anchor="middle" font-size="14.5" fill="#2b2b2b">2030</text>
<line x1="237.80" y1="269.00" x2="237.80" y2="274.00" stroke="#555" stroke-width="1"/>
<text x="237.80" y="286.20" text-anchor="middle" font-size="14.5" fill="#2b2b2b">2040</text>
<line x1="309.10" y1="269.00" x2="309.10" y2="274.00" stroke="#555" stroke-width="1"/>
<text x="309.10" y="286.20" text-anchor="middle" font-size="14.5" fill="#2b2b2b">2050</text>
<line x1="380.40" y1="269.00" x2="380.40" y2="274.00" stroke="#555" stroke-width="1"/>
<text x="380.40" y="286.20" text-anchor="middle" font-size="14.5" fill="#2b2b2b">2060</text>
<line x1="451.70" y1="269.00" x2="451.70" y2="274.00" stroke="#555" stroke-width="1"/>
<text x="451.70" y="286.20" text-anchor="middle" font-size="14.5" fill="#2b2b2b">2070</text>
<line x1="523.00" y1="269.00" x2="523.00" y2="274.00" stroke="#555" stroke-width="1"/>
<text x="523.00" y="286.20" text-anchor="middle" font-size="14.5" fill="#2b2b2b">2080</text>
<line x1="594.30" y1="269.00" x2="594.30" y2="274.00" stroke="#555" stroke-width="1"/>
<text x="594.30" y="286.20" text-anchor="middle" font-size="14.5" fill="#2b2b2b">2090</text>
<line x1="665.60" y1="269.00" x2="665.60" y2="274.00" stroke="#555" stroke-width="1"/>
<text x="665.60" y="286.20" text-anchor="middle" font-size="14.5" fill="#2b2b2b">2100</text>
<text x="361.5" y="306.8" text-anchor="middle" font-size="18" letter-spacing="-0.5" fill="#2b2b2b">Year</text>
<text transform="translate(13.7,158.5) rotate(-90)" text-anchor="middle" font-size="18" fill="#2b2b2b">Temperature effect (°C)</text>
<line x1="59.35" y1="345.00" x2="665" y2="345.00" stroke="#5f6b8a" stroke-width="1.3" stroke-dasharray="1.3 2.782"/>
<line x1="59.35" y1="387.90" x2="665" y2="387.90" stroke="#5f6b8a" stroke-width="1.3" stroke-dasharray="1.3 2.782"/>
<line x1="59.35" y1="473.70" x2="665" y2="473.70" stroke="#5f6b8a" stroke-width="1.3" stroke-dasharray="1.3 2.782"/>
<line x1="59.35" y1="516.60" x2="665" y2="516.60" stroke="#5f6b8a" stroke-width="1.3" stroke-dasharray="1.3 2.782"/>
<polyline points="95.70,430.80 97.48,423.61 99.27,415.96 101.05,407.88 102.84,399.42 104.62,389.52 106.40,378.46 108.19,368.25 109.97,360.87 111.75,355.98 113.54,351.89 115.32,348.65 117.11,346.29 118.89,344.52 120.67,343.06 122.46,341.92 124.24,341.10 126.02,340.47 127.81,339.91 129.59,339.52 131.38,339.37 133.16,339.37 134.94,339.37 136.73,339.42 138.51,339.64 140.29,339.99 142.08,340.36 143.86,340.76 145.65,341.24 147.43,341.78 149.21,342.34 151.00,342.93 152.78,343.56 154.56,344.23 156.35,344.92 158.13,345.64 159.92,346.36 161.70,347.09 163.48,347.84 165.27,348.59 167.05,349.36 168.83,350.14 170.62,350.93 172.40,351.73 174.19,352.54 175.97,353.36 177.75,354.19 179.54,355.02 181.32,355.87 188.45,359.32 195.59,362.93 202.72,366.77 209.86,370.62 217.00,374.40 224.13,378.15 231.26,381.73 238.40,385.17 245.54,388.43 252.67,391.36 259.81,393.97 266.94,396.39 274.07,398.70 281.21,400.87 288.34,403.10 295.48,405.10 302.62,406.63 309.75,407.95 311.53,408.27 313.32,408.60 315.10,408.94 316.88,409.29 318.67,409.66 320.45,410.04 322.24,410.47 324.02,410.93 325.80,411.40 327.59,411.86 329.37,412.29 331.15,412.66 332.94,413.00 334.72,413.33 336.51,413.64 338.29,413.94 340.07,414.23 341.86,414.51 343.64,414.78 345.43,415.04 347.21,415.29 348.99,415.54 350.78,415.77 352.56,416.00 354.34,416.22 356.13,416.43 357.91,416.64 359.69,416.84 361.48,417.03 363.26,417.22 365.05,417.41 366.83,417.59 368.61,417.77 370.40,417.95 372.18,418.13 373.96,418.29 375.75,418.46 377.53,418.62 379.32,418.78 381.10,418.94 388.23,419.58 395.37,420.21 402.50,420.83 409.64,421.41 416.77,421.98 423.91,422.54 431.04,423.06 438.18,423.51 445.31,423.90 452.45,424.26 459.58,424.59 466.72,424.89 473.85,425.15 480.99,425.36 488.12,425.54 495.26,425.69 502.39,425.82 509.53,425.94 516.66,426.05 523.80,426.16 530.94,426.27 538.07,426.37 545.21,426.47 552.34,426.56 559.48,426.65 566.61,426.73 573.75,426.79 580.88,426.85 588.01,426.89 595.15,426.94 602.28,426.98 609.42,427.03 616.56,427.07 623.69,427.10 630.83,427.13 637.96,427.16 645.10,427.19 652.23,427.20 659.37,427.21 666.50,427.22" fill="none" stroke="#4793d2" stroke-width="1.7"/>
<polyline points="95.70,430.80 97.48,425.46 99.27,419.78 101.05,413.78 102.84,407.49 104.62,400.14 106.40,391.93 108.19,384.34 109.97,378.86 111.75,375.23 113.54,372.19 115.32,369.79 117.11,368.03 118.89,366.72 120.67,365.64 122.46,364.79 124.24,364.18 126.02,363.71 127.81,363.30 129.59,363.01 131.38,362.90 133.16,362.90 134.94,362.90 136.73,362.93 138.51,363.10 140.29,363.35 142.08,363.63 143.86,363.93 145.65,364.28 147.43,364.68 149.21,365.10 151.00,365.53 152.78,366.01 154.56,366.50 156.35,367.02 158.13,367.55 159.92,368.09 161.70,368.63 163.48,369.18 165.27,369.74 167.05,370.31 168.83,370.89 170.62,371.48 172.40,372.07 174.19,372.67 175.97,373.28 177.75,373.90 179.54,374.52 181.32,375.15 188.45,377.71 195.59,380.39 202.72,383.25 209.86,386.11 217.00,388.91 224.13,391.70 231.26,394.35 238.40,396.91 245.54,399.33 252.67,401.51 259.81,403.45 266.94,405.24 274.07,406.96 281.21,408.57 288.34,410.23 295.48,411.71 302.62,412.85 309.75,413.83 311.53,414.07 313.32,414.31 315.10,414.56 316.88,414.82 318.67,415.10 320.45,415.38 322.24,415.70 324.02,416.04 325.80,416.39 327.59,416.74 329.37,417.05 331.15,417.32 332.94,417.58 334.72,417.82 336.51,418.06 338.29,418.28 340.07,418.50 341.86,418.70 343.64,418.90 345.43,419.10 347.21,419.28 348.99,419.46 350.78,419.64 352.56,419.81 354.34,419.97 356.13,420.13 357.91,420.28 359.69,420.43 361.48,420.58 363.26,420.72 365.05,420.85 366.83,420.99 368.61,421.12 370.40,421.26 372.18,421.39 373.96,421.51 375.75,421.63 377.53,421.75 379.32,421.87 381.10,421.99 388.23,422.47 395.37,422.94 402.50,423.39 409.64,423.83 416.77,424.25 423.91,424.66 431.04,425.05 438.18,425.39 445.31,425.68 452.45,425.94 459.58,426.19 466.72,426.41 473.85,426.61 480.99,426.76 488.12,426.89 495.26,427.00 502.39,427.10 509.53,427.19 516.66,427.27 523.80,427.35 530.94,427.43 538.07,427.51 545.21,427.58 552.34,427.65 559.48,427.72 566.61,427.77 573.75,427.82 580.88,427.86 588.01,427.90 595.15,427.93 602.28,427.97 609.42,428.00 616.56,428.03 623.69,428.05 630.83,428.08 637.96,428.10 645.10,428.12 652.23,428.13 659.37,428.14 666.50,428.14" fill="none" stroke="#4793d2" stroke-width="1.7"/>
<polyline points="95.70,430.80 97.48,423.97 99.27,416.70 101.05,409.03 102.84,400.99 104.62,391.59 106.40,381.09 108.19,371.38 109.97,364.38 111.75,359.73 113.54,355.85 115.32,352.77 117.11,350.53 118.89,348.85 120.67,347.46 122.46,346.37 124.24,345.60 126.02,345.00 127.81,344.47 129.59,344.10 131.38,343.96 133.16,343.96 134.94,343.96 136.73,344.00 138.51,344.22 140.29,344.54 142.08,344.89 143.86,345.28 145.65,345.73 147.43,346.24 149.21,346.77 151.00,347.33 152.78,347.93 154.56,348.57 156.35,349.23 158.13,349.91 159.92,350.60 161.70,351.29 163.48,352.00 165.27,352.71 167.05,353.44 168.83,354.18 170.62,354.93 172.40,355.69 174.19,356.46 175.97,357.24 177.75,358.03 179.54,358.82 181.32,359.63 188.45,362.90 195.59,366.34 202.72,369.98 209.86,373.64 217.00,377.23 224.13,380.79 231.26,384.19 238.40,387.45 245.54,390.55 252.67,393.34 259.81,395.82 266.94,398.12 274.07,400.31 281.21,402.37 288.34,404.49 295.48,406.39 302.62,407.85 309.75,409.10 311.53,409.40 313.32,409.71 315.10,410.04 316.88,410.37 318.67,410.72 320.45,411.08 322.24,411.49 324.02,411.93 325.80,412.38 327.59,412.81 329.37,413.22 331.15,413.57 332.94,413.89 334.72,414.20 336.51,414.50 338.29,414.79 340.07,415.06 341.86,415.33 343.64,415.59 345.43,415.83 347.21,416.07 348.99,416.30 350.78,416.53 352.56,416.74 354.34,416.95 356.13,417.15 357.91,417.35 359.69,417.54 361.48,417.72 363.26,417.90 365.05,418.08 366.83,418.25 368.61,418.42 370.40,418.59 372.18,418.76 373.96,418.92 375.75,419.08 377.53,419.23 379.32,419.38 381.10,419.53 388.23,420.14 395.37,420.74 402.50,421.33 409.64,421.88 416.77,422.42 423.91,422.95 431.04,423.44 438.18,423.88 445.31,424.25 452.45,424.59 459.58,424.91 466.72,425.19 473.85,425.44 480.99,425.64 488.12,425.80 495.26,425.94 502.39,426.07 509.53,426.18 516.66,426.29 523.80,426.39 530.94,426.49 538.07,426.59 545.21,426.69 552.34,426.78 559.48,426.86 566.61,426.93 573.75,426.99 580.88,427.04 588.01,427.09 595.15,427.13 602.28,427.17 609.42,427.22 616.56,427.25 623.69,427.29 630.83,427.32 637.96,427.34 645.10,427.37 652.23,427.38 659.37,427.39 666.50,427.40" fill="none" stroke="#1e72bc" stroke-width="1.7"/>
<polyline points="95.70,430.80 97.48,425.13 99.27,419.09 101.05,412.72 102.84,406.04 104.62,398.24 106.40,389.51 108.19,381.45 109.97,375.63 111.75,371.77 113.54,368.55 115.32,366.00 117.11,364.13 118.89,362.74 120.67,361.59 122.46,360.68 124.24,360.04 126.02,359.54 127.81,359.10 129.59,358.79 131.38,358.67 133.16,358.67 134.94,358.67 136.73,358.71 138.51,358.89 140.29,359.16 142.08,359.45 143.86,359.77 145.65,360.15 147.43,360.57 149.21,361.01 151.00,361.48 152.78,361.98 154.56,362.50 156.35,363.05 158.13,363.62 159.92,364.19 161.70,364.77 163.48,365.35 165.27,365.95 167.05,366.55 168.83,367.17 170.62,367.79 172.40,368.42 174.19,369.06 175.97,369.71 177.75,370.36 179.54,371.02 181.32,371.69 188.45,374.41 195.59,377.26 202.72,380.29 209.86,383.33 217.00,386.31 224.13,389.26 231.26,392.09 238.40,394.80 245.54,397.38 252.67,399.69 259.81,401.75 266.94,403.66 274.07,405.48 281.21,407.19 288.34,408.95 295.48,410.53 302.62,411.74 309.75,412.77 311.53,413.03 313.32,413.29 315.10,413.55 316.88,413.83 318.67,414.12 320.45,414.43 322.24,414.76 324.02,415.12 325.80,415.50 327.59,415.86 329.37,416.20 331.15,416.49 332.94,416.76 334.72,417.02 336.51,417.26 338.29,417.50 340.07,417.73 341.86,417.95 343.64,418.16 345.43,418.37 347.21,418.57 348.99,418.76 350.78,418.95 352.56,419.13 354.34,419.30 356.13,419.47 357.91,419.63 359.69,419.79 361.48,419.94 363.26,420.09 365.05,420.24 366.83,420.38 368.61,420.52 370.40,420.66 372.18,420.80 373.96,420.93 375.75,421.06 377.53,421.19 379.32,421.32 381.10,421.44 388.23,421.95 395.37,422.45 402.50,422.93 409.64,423.39 416.77,423.84 423.91,424.28 431.04,424.69 438.18,425.05 445.31,425.36 452.45,425.64 459.58,425.90 466.72,426.14 473.85,426.34 480.99,426.51 488.12,426.65 495.26,426.77 502.39,426.87 509.53,426.97 516.66,427.05 523.80,427.14 530.94,427.22 538.07,427.30 545.21,427.38 552.34,427.46 559.48,427.53 566.61,427.59 573.75,427.64 580.88,427.68 588.01,427.72 595.15,427.75 602.28,427.79 609.42,427.82 616.56,427.85 623.69,427.88 630.83,427.91 637.96,427.93 645.10,427.95 652.23,427.96 659.37,427.97 666.50,427.97" fill="none" stroke="#1e72bc" stroke-width="1.7"/>
<polyline points="95.70,430.80 97.48,424.27 99.27,417.33 101.05,410.00 102.84,402.32 104.62,393.33 106.40,383.30 108.19,374.02 109.97,367.33 111.75,362.89 113.54,359.18 115.32,356.24 117.11,354.10 118.89,352.49 120.67,351.17 122.46,350.13 124.24,349.39 126.02,348.81 127.81,348.31 129.59,347.95 131.38,347.82 133.16,347.82 134.94,347.82 136.73,347.86 138.51,348.06 140.29,348.38 142.08,348.71 143.86,349.08 145.65,349.51 147.43,350.00 149.21,350.51 151.00,351.04 152.78,351.62 154.56,352.22 156.35,352.86 158.13,353.50 159.92,354.16 161.70,354.83 163.48,355.50 165.27,356.19 167.05,356.88 168.83,357.59 170.62,358.31 172.40,359.03 174.19,359.77 175.97,360.51 177.75,361.26 179.54,362.02 181.32,362.79 188.45,365.92 195.59,369.20 202.72,372.69 209.86,376.18 217.00,379.61 224.13,383.01 231.26,386.26 238.40,389.38 245.54,392.34 252.67,395.00 259.81,397.37 266.94,399.57 274.07,401.66 281.21,403.64 288.34,405.66 295.48,407.47 302.62,408.87 309.75,410.06 311.53,410.35 313.32,410.65 315.10,410.96 316.88,411.28 318.67,411.61 320.45,411.96 322.24,412.35 324.02,412.76 325.80,413.19 327.59,413.61 329.37,414.00 331.15,414.33 332.94,414.64 334.72,414.94 336.51,415.23 338.29,415.50 340.07,415.76 341.86,416.02 343.64,416.26 345.43,416.50 347.21,416.73 348.99,416.95 350.78,417.16 352.56,417.37 354.34,417.57 356.13,417.76 357.91,417.95 359.69,418.13 361.48,418.30 363.26,418.48 365.05,418.65 366.83,418.81 368.61,418.97 370.40,419.14 372.18,419.30 373.96,419.45 375.75,419.60 377.53,419.74 379.32,419.89 381.10,420.03 388.23,420.62 395.37,421.19 402.50,421.75 409.64,422.28 416.77,422.79 423.91,423.30 431.04,423.77 438.18,424.19 445.31,424.54 452.45,424.87 459.58,425.17 466.72,425.44 473.85,425.67 480.99,425.87 488.12,426.02 495.26,426.16 502.39,426.28 509.53,426.39 516.66,426.49 523.80,426.59 530.94,426.68 538.07,426.78 545.21,426.87 552.34,426.95 559.48,427.03 566.61,427.10 573.75,427.16 580.88,427.21 588.01,427.25 595.15,427.30 602.28,427.34 609.42,427.37 616.56,427.41 623.69,427.44 630.83,427.47 637.96,427.50 645.10,427.52 652.23,427.53 659.37,427.54 666.50,427.55" fill="none" stroke="#135ca2" stroke-width="1.7"/>
<polyline points="95.70,430.80 97.48,424.84 99.27,418.50 101.05,411.81 102.84,404.80 104.62,396.60 106.40,387.44 108.19,378.98 109.97,372.86 111.75,368.81 113.54,365.43 115.32,362.74 117.11,360.79 118.89,359.32 120.67,358.11 122.46,357.16 124.24,356.49 126.02,355.96 127.81,355.50 129.59,355.18 131.38,355.05 133.16,355.05 134.94,355.05 136.73,355.09 138.51,355.28 140.29,355.57 142.08,355.87 143.86,356.20 145.65,356.60 147.43,357.05 149.21,357.51 151.00,358.00 152.78,358.52 154.56,359.08 156.35,359.65 158.13,360.25 159.92,360.85 161.70,361.45 163.48,362.07 165.27,362.69 167.05,363.33 168.83,363.97 170.62,364.63 172.40,365.29 174.19,365.96 175.97,366.64 177.75,367.33 179.54,368.02 181.32,368.72 188.45,371.58 195.59,374.57 202.72,377.76 209.86,380.95 217.00,384.07 224.13,387.18 231.26,390.14 238.40,392.99 245.54,395.70 252.67,398.12 259.81,400.29 266.94,402.29 274.07,404.21 281.21,406.00 288.34,407.85 295.48,409.51 302.62,410.78 309.75,411.87 311.53,412.14 313.32,412.41 315.10,412.69 316.88,412.98 318.67,413.28 320.45,413.60 322.24,413.96 324.02,414.34 325.80,414.73 327.59,415.11 329.37,415.46 331.15,415.77 332.94,416.05 334.72,416.32 336.51,416.58 338.29,416.83 340.07,417.08 341.86,417.31 343.64,417.53 345.43,417.74 347.21,417.95 348.99,418.15 350.78,418.35 352.56,418.54 354.34,418.72 356.13,418.90 357.91,419.07 359.69,419.23 361.48,419.39 363.26,419.55 365.05,419.71 366.83,419.86 368.61,420.01 370.40,420.15 372.18,420.30 373.96,420.44 375.75,420.58 377.53,420.71 379.32,420.84 381.10,420.97 388.23,421.50 395.37,422.03 402.50,422.54 409.64,423.02 416.77,423.49 423.91,423.95 431.04,424.38 438.18,424.76 445.31,425.08 452.45,425.38 459.58,425.66 466.72,425.91 473.85,426.12 480.99,426.30 488.12,426.44 495.26,426.56 502.39,426.67 509.53,426.77 516.66,426.87 523.80,426.95 530.94,427.04 538.07,427.13 545.21,427.21 552.34,427.29 559.48,427.36 566.61,427.43 573.75,427.48 580.88,427.52 588.01,427.56 595.15,427.60 602.28,427.64 609.42,427.67 616.56,427.71 623.69,427.74 630.83,427.76 637.96,427.79 645.10,427.81 652.23,427.82 659.37,427.83 666.50,427.83" fill="none" stroke="#135ca2" stroke-width="1.7"/>
<polyline points="95.70,430.80 97.48,430.94 99.27,430.63 101.05,429.89 102.84,428.77 104.62,426.84 106.40,424.15 108.19,421.49 109.97,419.60 111.75,418.39 113.54,417.25 115.32,416.22 117.11,415.45 118.89,414.85 120.67,414.27 122.46,413.83 124.24,413.63 126.02,413.57 127.81,413.53 129.59,413.59 131.38,413.86 133.16,414.22 134.94,414.55 136.73,414.91 138.51,415.48 140.29,416.18 142.08,416.90 143.86,417.63 145.65,418.42 147.43,419.28 149.21,420.16 151.00,421.07 152.78,422.01 154.56,422.98 156.35,423.94 158.13,424.87 159.92,425.78 161.70,426.67 163.48,427.57 165.27,428.46 167.05,429.36 168.83,430.25 170.62,431.13 172.40,432.01 174.19,432.88 175.97,433.75 177.75,434.62 179.54,435.49 181.32,436.37 188.45,439.91 195.59,443.51 202.72,447.21 209.86,450.82 217.00,454.33 224.13,457.79 231.26,461.07 238.40,464.21 245.54,467.13 252.67,469.68 259.81,471.91 266.94,473.95 274.07,475.89 281.21,477.71 288.34,479.59 295.48,481.25 302.62,482.48 309.75,483.52 311.53,479.63 313.32,475.05 315.10,469.48 316.88,463.17 318.67,456.27 320.45,449.34 322.24,442.78 324.02,437.11 325.80,432.82 327.59,429.53 329.37,427.10 331.15,425.32 332.94,424.04 334.72,423.02 336.51,422.18 338.29,421.50 340.07,420.93 341.86,420.46 343.64,420.06 345.43,419.70 347.21,419.36 348.99,419.04 350.78,418.75 352.56,418.48 354.34,418.23 356.13,418.00 357.91,417.78 359.69,417.56 361.48,417.35 363.26,417.15 365.05,416.95 366.83,416.76 368.61,416.57 370.40,416.40 372.18,416.23 373.96,416.08 375.75,415.92 377.53,415.78 379.32,415.66 381.10,415.54 388.23,415.12 395.37,414.88 402.50,415.03 409.64,415.30 416.77,415.61 423.91,415.97 431.04,416.38 438.18,416.79 445.31,417.17 452.45,417.52 459.58,417.83 466.72,418.12 473.85,418.37 480.99,418.60 488.12,418.82 495.26,419.07 502.39,419.33 509.53,419.60 516.66,419.86 523.80,420.11 530.94,420.35 538.07,420.60 545.21,420.86 552.34,421.12 559.48,421.38 566.61,421.63 573.75,421.87 580.88,422.10 588.01,422.32 595.15,422.54 602.28,422.77 609.42,423.00 616.56,423.22 623.69,423.44 630.83,423.65 637.96,423.86 645.10,424.06 652.23,424.25 659.37,424.44 666.50,424.63" fill="none" stroke="#fbb47c" stroke-width="1.7"/>
<polyline points="95.70,430.80 97.48,432.79 99.27,434.44 101.05,435.77 102.84,436.81 104.62,437.41 106.40,437.57 108.19,437.53 109.97,437.56 111.75,437.72 113.54,437.96 115.32,438.33 117.11,438.79 118.89,439.23 120.67,439.65 122.46,440.10 124.24,440.67 126.02,441.26 127.81,441.80 129.59,442.37 131.38,443.05 133.16,443.76 134.94,444.40 136.73,445.03 138.51,445.78 140.29,446.63 142.08,447.48 143.86,448.31 145.65,449.19 147.43,450.11 149.21,451.03 151.00,451.95 152.78,452.86 154.56,453.77 156.35,454.66 158.13,455.51 159.92,456.33 161.70,457.14 163.48,457.94 165.27,458.74 167.05,459.53 168.83,460.31 170.62,461.09 172.40,461.86 174.19,462.61 175.97,463.35 177.75,464.10 179.54,464.85 181.32,465.60 188.45,468.64 195.59,471.71 202.72,474.83 209.86,477.88 217.00,480.85 224.13,483.79 231.26,486.60 238.40,489.30 245.54,491.83 252.67,494.03 259.81,495.94 266.94,497.69 274.07,499.37 281.21,500.97 288.34,502.62 295.48,504.09 302.62,505.17 309.75,506.08 311.53,501.00 313.32,495.04 315.10,488.16 316.88,480.61 318.67,472.51 320.45,464.40 322.24,456.79 324.02,450.26 325.80,445.29 327.59,441.42 329.37,438.48 331.15,436.27 332.94,434.63 334.72,433.27 336.51,432.12 338.29,431.15 340.07,430.32 341.86,429.61 343.64,428.98 345.43,428.41 347.21,427.86 348.99,427.35 350.78,426.88 352.56,426.43 354.34,426.00 356.13,425.60 357.91,425.22 359.69,424.85 361.48,424.49 363.26,424.13 365.05,423.79 366.83,423.46 368.61,423.15 370.40,422.84 372.18,422.55 373.96,422.27 375.75,421.99 377.53,421.74 379.32,421.49 381.10,421.26 388.23,420.40 395.37,419.75 402.50,419.52 409.64,419.44 416.77,419.43 423.91,419.49 431.04,419.61 438.18,419.76 445.31,419.93 452.45,420.11 459.58,420.29 466.72,420.45 473.85,420.60 480.99,420.73 488.12,420.87 495.26,421.04 502.39,421.24 509.53,421.45 516.66,421.67 523.80,421.88 530.94,422.09 538.07,422.31 545.21,422.54 552.34,422.77 559.48,423.00 566.61,423.23 573.75,423.45 580.88,423.65 588.01,423.86 595.15,424.07 602.28,424.28 609.42,424.49 616.56,424.70 623.69,424.90 630.83,425.10 637.96,425.30 645.10,425.50 652.23,425.69 659.37,425.88 666.50,426.06" fill="none" stroke="#fbb47c" stroke-width="1.7"/>
<polyline points="95.70,430.80 97.48,431.30 99.27,431.36 101.05,431.02 102.84,430.31 104.62,428.86 106.40,426.73 108.19,424.56 109.97,423.05 111.75,422.10 113.54,421.22 115.32,420.46 117.11,419.92 118.89,419.52 120.67,419.14 122.46,418.86 124.24,418.81 126.02,418.88 127.81,418.95 129.59,419.11 131.38,419.45 133.16,419.88 134.94,420.27 136.73,420.68 138.51,421.29 140.29,422.02 142.08,422.77 143.86,423.51 145.65,424.32 147.43,425.19 149.21,426.08 151.00,426.99 152.78,427.93 154.56,428.88 156.35,429.82 158.13,430.75 159.92,431.64 161.70,432.52 163.48,433.39 165.27,434.27 167.05,435.14 168.83,436.01 170.62,436.88 172.40,437.73 174.19,438.58 175.97,439.42 177.75,440.27 179.54,441.12 181.32,441.97 188.45,445.42 195.59,448.92 202.72,452.51 209.86,456.01 217.00,459.42 224.13,462.78 231.26,465.97 238.40,469.02 245.54,471.86 252.67,474.35 259.81,476.52 266.94,478.50 274.07,480.39 281.21,482.17 288.34,484.00 295.48,485.63 302.62,486.83 309.75,487.84 311.53,483.73 313.32,478.88 315.10,473.06 316.88,466.52 318.67,459.38 320.45,452.23 322.24,445.47 324.02,439.63 325.80,435.21 327.59,431.81 329.37,429.29 331.15,427.42 332.94,426.07 334.72,424.98 336.51,424.09 338.29,423.35 340.07,422.73 341.86,422.21 343.64,421.77 345.43,421.37 347.21,420.99 348.99,420.64 350.78,420.31 352.56,420.01 354.34,419.72 356.13,419.46 357.91,419.21 359.69,418.96 361.48,418.72 363.26,418.49 365.05,418.26 366.83,418.04 368.61,417.83 370.40,417.63 372.18,417.44 373.96,417.26 375.75,417.09 377.53,416.93 379.32,416.78 381.10,416.64 388.23,416.13 395.37,415.81 402.50,415.89 409.64,416.10 416.77,416.34 423.91,416.65 431.04,417.00 438.18,417.36 445.31,417.70 452.45,418.01 459.58,418.30 466.72,418.56 473.85,418.80 480.99,419.01 488.12,419.21 495.26,419.44 502.39,419.69 509.53,419.95 516.66,420.21 523.80,420.45 530.94,420.68 538.07,420.93 545.21,421.18 552.34,421.44 559.48,421.69 566.61,421.93 573.75,422.17 580.88,422.40 588.01,422.61 595.15,422.84 602.28,423.06 609.42,423.28 616.56,423.50 623.69,423.72 630.83,423.93 637.96,424.13 645.10,424.33 652.23,424.53 659.37,424.72 666.50,424.90" fill="none" stroke="#f89a4f" stroke-width="1.7"/>
<polyline points="95.70,430.80 97.48,432.39 99.27,433.61 101.05,434.49 102.84,435.06 104.62,435.11 106.40,434.65 108.19,434.04 109.97,433.65 111.75,433.51 113.54,433.45 115.32,433.52 117.11,433.71 118.89,433.93 120.67,434.12 122.46,434.38 124.24,434.78 126.02,435.23 127.81,435.65 129.59,436.11 131.38,436.70 133.16,437.33 134.94,437.90 136.73,438.48 138.51,439.19 140.29,440.00 142.08,440.82 143.86,441.64 145.65,442.50 147.43,443.40 149.21,444.31 151.00,445.23 152.78,446.15 154.56,447.07 156.35,447.97 158.13,448.85 159.92,449.69 161.70,450.51 163.48,451.33 165.27,452.15 167.05,452.96 168.83,453.77 170.62,454.57 172.40,455.36 174.19,456.14 175.97,456.91 177.75,457.68 179.54,458.46 181.32,459.24 188.45,462.38 195.59,465.57 202.72,468.82 209.86,471.99 217.00,475.08 224.13,478.14 231.26,481.05 238.40,483.84 245.54,486.45 252.67,488.73 259.81,490.71 266.94,492.52 274.07,494.26 281.21,495.91 288.34,497.61 295.48,499.12 302.62,500.23 309.75,501.17 311.53,496.35 313.32,490.69 315.10,484.09 316.88,476.82 318.67,468.97 320.45,461.12 322.24,453.74 324.02,447.40 325.80,442.58 327.59,438.83 329.37,436.01 331.15,433.89 332.94,432.33 334.72,431.04 336.51,429.96 338.29,429.05 340.07,428.28 341.86,427.62 343.64,427.04 345.43,426.51 347.21,426.01 348.99,425.55 350.78,425.11 352.56,424.70 354.34,424.31 356.13,423.95 357.91,423.60 359.69,423.26 361.48,422.93 363.26,422.61 365.05,422.30 366.83,422.00 368.61,421.72 370.40,421.44 372.18,421.17 373.96,420.92 375.75,420.67 377.53,420.44 379.32,420.22 381.10,420.02 388.23,419.25 395.37,418.69 402.50,418.54 409.64,418.54 416.77,418.60 423.91,418.73 431.04,418.90 438.18,419.12 445.31,419.33 452.45,419.54 459.58,419.75 466.72,419.94 473.85,420.11 480.99,420.26 488.12,420.42 495.26,420.61 502.39,420.82 509.53,421.05 516.66,421.28 523.80,421.49 530.94,421.71 538.07,421.94 545.21,422.17 552.34,422.41 559.48,422.65 566.61,422.88 573.75,423.10 580.88,423.32 588.01,423.52 595.15,423.74 602.28,423.95 609.42,424.16 616.56,424.38 623.69,424.58 630.83,424.79 637.96,424.99 645.10,425.18 652.23,425.38 659.37,425.56 666.50,425.75" fill="none" stroke="#f89a4f" stroke-width="1.7"/>
<polyline points="95.70,430.80 97.48,431.58 99.27,431.95 101.05,431.93 102.84,431.56 104.62,430.51 106.40,428.81 108.19,427.06 109.97,425.84 111.75,425.10 113.54,424.44 115.32,423.89 117.11,423.55 118.89,423.31 120.67,423.08 122.46,422.95 124.24,423.02 126.02,423.18 127.81,423.34 129.59,423.58 131.38,423.99 133.16,424.48 134.94,424.91 136.73,425.37 138.51,426.00 140.29,426.75 142.08,427.52 143.86,428.28 145.65,429.11 147.43,429.98 149.21,430.88 151.00,431.79 152.78,432.72 154.56,433.67 156.35,434.60 158.13,435.51 159.92,436.39 161.70,437.25 163.48,438.11 165.27,438.97 167.05,439.83 168.83,440.68 170.62,441.53 172.40,442.37 174.19,443.20 175.97,444.03 177.75,444.85 179.54,445.68 181.32,446.51 188.45,449.88 195.59,453.30 202.72,456.80 209.86,460.21 217.00,463.54 224.13,466.82 231.26,469.94 238.40,472.92 245.54,475.70 252.67,478.13 259.81,480.25 266.94,482.19 274.07,484.04 281.21,485.79 288.34,487.59 295.48,489.18 302.62,490.36 309.75,491.35 311.53,487.05 313.32,481.99 315.10,475.97 316.88,469.23 318.67,461.91 320.45,454.57 322.24,447.64 324.02,441.67 325.80,437.15 327.59,433.66 329.37,431.05 331.15,429.12 332.94,427.72 334.72,426.57 336.51,425.63 338.29,424.85 340.07,424.19 341.86,423.64 343.64,423.16 345.43,422.72 347.21,422.31 348.99,421.93 350.78,421.57 352.56,421.24 354.34,420.93 356.13,420.64 357.91,420.36 359.69,420.09 361.48,419.83 363.26,419.57 365.05,419.32 366.83,419.08 368.61,418.85 370.40,418.64 372.18,418.43 373.96,418.22 375.75,418.03 377.53,417.85 379.32,417.68 381.10,417.53 388.23,416.95 395.37,416.57 402.50,416.59 409.64,416.74 416.77,416.94 423.91,417.19 431.04,417.50 438.18,417.82 445.31,418.13 452.45,418.42 459.58,418.68 466.72,418.93 473.85,419.15 480.99,419.34 488.12,419.53 495.26,419.75 502.39,419.99 509.53,420.24 516.66,420.49 523.80,420.72 530.94,420.95 538.07,421.20 545.21,421.44 552.34,421.69 559.48,421.94 566.61,422.18 573.75,422.42 580.88,422.64 588.01,422.85 595.15,423.07 602.28,423.29 609.42,423.51 616.56,423.73 623.69,423.95 630.83,424.15 637.96,424.36 645.10,424.56 652.23,424.75 659.37,424.94 666.50,425.12" fill="none" stroke="#f2802c" stroke-width="1.7"/>
<polyline points="95.70,430.80 97.48,432.11 99.27,433.04 101.05,433.61 102.84,433.86 104.62,433.52 106.40,432.63 108.19,431.63 109.97,430.95 111.75,430.61 113.54,430.34 115.32,430.19 117.11,430.21 118.89,430.26 120.67,430.31 122.46,430.44 124.24,430.72 126.02,431.07 127.81,431.40 129.59,431.79 131.38,432.31 133.16,432.89 134.94,433.42 136.73,433.95 138.51,434.63 140.29,435.43 142.08,436.23 143.86,437.03 145.65,437.88 147.43,438.77 149.21,439.67 151.00,440.59 152.78,441.51 154.56,442.44 156.35,443.35 158.13,444.24 159.92,445.09 161.70,445.93 163.48,446.77 165.27,447.60 167.05,448.43 168.83,449.25 170.62,450.07 172.40,450.88 174.19,451.68 175.97,452.46 177.75,453.25 179.54,454.05 181.32,454.85 188.45,458.07 195.59,461.34 202.72,464.67 209.86,467.92 217.00,471.09 224.13,474.23 231.26,477.21 238.40,480.07 245.54,482.74 252.67,485.07 259.81,487.10 266.94,488.95 274.07,490.73 281.21,492.42 288.34,494.15 295.48,495.69 302.62,496.82 309.75,497.78 311.53,493.14 313.32,487.69 315.10,481.29 316.88,474.20 318.67,466.53 320.45,458.86 322.24,451.64 324.02,445.42 325.80,440.71 327.59,437.05 329.37,434.30 331.15,432.24 332.94,430.74 334.72,429.50 336.51,428.47 338.29,427.60 340.07,426.86 341.86,426.24 343.64,425.70 345.43,425.20 347.21,424.74 348.99,424.30 350.78,423.89 352.56,423.50 354.34,423.14 356.13,422.80 357.91,422.48 359.69,422.17 361.48,421.86 363.26,421.56 365.05,421.28 366.83,421.00 368.61,420.73 370.40,420.47 372.18,420.23 373.96,419.99 375.75,419.76 377.53,419.55 379.32,419.35 381.10,419.16 388.23,418.46 395.37,417.96 402.50,417.87 409.64,417.92 416.77,418.03 423.91,418.20 431.04,418.42 438.18,418.67 445.31,418.92 452.45,419.15 459.58,419.38 466.72,419.59 473.85,419.78 480.99,419.94 488.12,420.11 495.26,420.31 502.39,420.54 509.53,420.77 516.66,421.00 523.80,421.23 530.94,421.45 538.07,421.68 545.21,421.92 552.34,422.16 559.48,422.40 566.61,422.64 573.75,422.87 580.88,423.08 588.01,423.29 595.15,423.51 602.28,423.72 609.42,423.94 616.56,424.15 623.69,424.36 630.83,424.57 637.96,424.77 645.10,424.97 652.23,425.16 659.37,425.35 666.50,425.53" fill="none" stroke="#f2802c" stroke-width="1.7"/>
<polyline points="95.70,430.80 97.48,438.21 99.27,445.62 101.05,453.03 102.84,460.44 104.62,468.49 106.40,476.97 108.19,484.67 109.97,490.33 111.75,494.52 113.54,498.53 115.32,502.12 117.11,504.99 118.89,507.22 120.67,509.15 122.46,510.83 124.24,512.30 126.02,513.60 127.81,514.76 129.59,515.79 131.38,516.71 133.16,517.54 134.94,518.29 136.73,518.97 138.51,519.62 140.29,520.26 142.08,520.88 143.86,521.46 145.65,522.01 147.43,522.56 149.21,523.08 151.00,523.57 152.78,524.02 154.56,524.42 156.35,524.78 158.13,525.10 159.92,525.36 161.70,525.61 163.48,525.84 165.27,526.06 167.05,526.26 168.83,526.44 170.62,526.61 172.40,526.75 174.19,526.88 175.97,526.99 177.75,527.08 179.54,527.18 181.32,527.27 188.45,527.61 195.59,527.85 202.72,527.94 209.86,527.93 217.00,527.89 224.13,527.84 231.26,527.77 238.40,527.70 245.54,527.58 252.67,527.39 259.81,527.17 266.94,526.94 274.07,526.72 281.21,526.53 288.34,526.33 295.48,526.14 302.62,525.94 309.75,525.75 311.53,520.37 313.32,514.09 315.10,506.89 316.88,499.01 318.67,490.55 320.45,482.08 322.24,474.07 324.02,467.12 325.80,461.73 327.59,457.45 329.37,454.14 331.15,451.61 332.94,449.67 334.72,448.01 336.51,446.60 338.29,445.36 340.07,444.28 341.86,443.32 343.64,442.46 345.43,441.67 347.21,440.91 348.99,440.19 350.78,439.51 352.56,438.86 354.34,438.25 356.13,437.66 357.91,437.11 359.69,436.56 361.48,436.03 363.26,435.52 365.05,435.02 366.83,434.53 368.61,434.06 370.40,433.60 372.18,433.16 373.96,432.73 375.75,432.32 377.53,431.92 379.32,431.54 381.10,431.17 388.23,429.76 395.37,428.56 402.50,427.82 409.64,427.24 416.77,426.75 423.91,426.34 431.04,426.01 438.18,425.78 445.31,425.62 452.45,425.50 459.58,425.40 466.72,425.32 473.85,425.25 480.99,425.20 488.12,425.20 495.26,425.24 502.39,425.33 509.53,425.45 516.66,425.57 523.80,425.69 530.94,425.82 538.07,425.96 545.21,426.10 552.34,426.26 559.48,426.42 566.61,426.58 573.75,426.75 580.88,426.91 588.01,427.08 595.15,427.25 602.28,427.42 609.42,427.60 616.56,427.78 623.69,427.95 630.83,428.13 637.96,428.30 645.10,428.48 652.23,428.66 659.37,428.83 666.50,429.01" fill="none" stroke="#6f60bd" stroke-opacity="0.3" stroke-width="2"/>
<polyline points="95.70,430.80 97.48,437.98 99.27,445.16 101.05,452.34 102.84,459.52 104.62,467.30 106.40,475.44 108.19,482.75 109.97,488.02 111.75,491.27 113.54,493.47 115.32,494.88 117.11,495.84 118.89,496.54 120.67,497.00 122.46,497.35 124.24,497.68 126.02,498.03 127.81,498.35 129.59,498.64 131.38,498.92 133.16,499.18 134.94,499.41 136.73,499.65 138.51,499.93 140.29,500.25 142.08,500.56 143.86,500.85 145.65,501.14 147.43,501.45 149.21,501.76 151.00,502.07 152.78,502.40 154.56,502.70 156.35,502.98 158.13,503.23 159.92,503.43 161.70,503.62 163.48,503.80 165.27,503.96 167.05,504.12 168.83,504.26 170.62,504.39 172.40,504.50 174.19,504.59 175.97,504.68 177.75,504.75 179.54,504.83 181.32,504.90 188.45,505.16 195.59,505.34 202.72,505.41 209.86,505.40 217.00,505.37 224.13,505.33 231.26,505.28 238.40,505.22 245.54,505.13 252.67,504.99 259.81,504.82 266.94,504.64 274.07,504.47 281.21,504.32 288.34,504.18 295.48,504.03 302.62,503.88 309.75,503.73 311.53,499.57 313.32,494.72 315.10,488.88 316.88,482.28 318.67,475.08 320.45,467.83 322.24,460.92 324.02,454.85 325.80,450.16 327.59,446.47 329.37,443.68 331.15,441.57 332.94,440.00 334.72,438.68 336.51,437.58 338.29,436.63 340.07,435.80 341.86,435.09 343.64,434.45 345.43,433.86 347.21,433.30 348.99,432.77 350.78,432.27 352.56,431.80 354.34,431.35 356.13,430.93 357.91,430.53 359.69,430.14 361.48,429.76 363.26,429.38 365.05,429.02 366.83,428.67 368.61,428.32 370.40,427.99 372.18,427.67 373.96,427.37 375.75,427.07 377.53,426.79 379.32,426.52 381.10,426.26 388.23,425.28 395.37,424.47 402.50,424.08 409.64,423.83 416.77,423.63 423.91,423.49 431.04,423.43 438.18,423.44 445.31,423.47 452.45,423.49 459.58,423.50 466.72,423.51 473.85,423.54 480.99,423.57 488.12,423.63 495.26,423.75 502.39,423.89 509.53,424.05 516.66,424.21 523.80,424.36 530.94,424.50 538.07,424.66 545.21,424.82 552.34,424.99 559.48,425.17 566.61,425.35 573.75,425.53 580.88,425.71 588.01,425.89 595.15,426.07 602.28,426.26 609.42,426.44 616.56,426.63 623.69,426.81 630.83,427.00 637.96,427.18 645.10,427.36 652.23,427.54 659.37,427.72 666.50,427.90" fill="none" stroke="#6f60bd" stroke-opacity="0.3" stroke-width="2"/>
<polyline points="95.70,430.80 97.48,438.17 99.27,445.53 101.05,452.90 102.84,460.27 104.62,468.25 106.40,476.67 108.19,484.29 109.97,489.88 111.75,493.89 113.54,497.55 115.32,500.71 117.11,503.21 118.89,505.14 120.67,506.79 122.46,508.20 124.24,509.45 126.02,510.56 127.81,511.56 129.59,512.45 131.38,513.25 133.16,513.96 134.94,514.61 136.73,515.21 138.51,515.78 140.29,516.36 142.08,516.92 143.86,517.44 145.65,517.95 147.43,518.45 149.21,518.93 151.00,519.38 152.78,519.80 154.56,520.19 156.35,520.53 158.13,520.83 159.92,521.09 161.70,521.32 163.48,521.54 165.27,521.75 167.05,521.94 168.83,522.12 170.62,522.28 172.40,522.42 174.19,522.54 175.97,522.64 177.75,522.73 179.54,522.82 181.32,522.91 188.45,523.24 195.59,523.46 202.72,523.55 209.86,523.54 217.00,523.50 224.13,523.45 231.26,523.39 238.40,523.32 245.54,523.20 252.67,523.02 259.81,522.81 266.94,522.59 274.07,522.39 281.21,522.20 288.34,522.01 295.48,521.83 302.62,521.64 309.75,521.46 311.53,516.32 313.32,510.32 315.10,503.38 316.88,495.75 318.67,487.54 320.45,479.30 322.24,471.51 324.02,464.73 325.80,459.48 327.59,455.31 329.37,452.10 331.15,449.65 332.94,447.78 334.72,446.20 336.51,444.84 338.29,443.66 340.07,442.63 341.86,441.72 343.64,440.90 345.43,440.15 347.21,439.43 348.99,438.74 350.78,438.10 352.56,437.48 354.34,436.90 356.13,436.35 357.91,435.82 359.69,435.31 361.48,434.81 363.26,434.32 365.05,433.85 366.83,433.39 368.61,432.94 370.40,432.51 372.18,432.09 373.96,431.68 375.75,431.29 377.53,430.92 379.32,430.56 381.10,430.22 388.23,428.88 395.37,427.77 402.50,427.09 409.64,426.58 416.77,426.14 423.91,425.78 431.04,425.51 438.18,425.33 445.31,425.20 452.45,425.11 459.58,425.03 466.72,424.97 473.85,424.92 480.99,424.88 488.12,424.89 495.26,424.95 502.39,425.05 509.53,425.17 516.66,425.31 523.80,425.43 530.94,425.56 538.07,425.70 545.21,425.85 552.34,426.01 559.48,426.17 566.61,426.34 573.75,426.51 580.88,426.68 588.01,426.85 595.15,427.02 602.28,427.20 609.42,427.37 616.56,427.55 623.69,427.73 630.83,427.91 637.96,428.08 645.10,428.26 652.23,428.44 659.37,428.62 666.50,428.80" fill="none" stroke="#6f60bd" stroke-opacity="0.45" stroke-width="2"/>
<polyline points="95.70,430.80 97.48,438.02 99.27,445.24 101.05,452.47 102.84,459.69 104.62,467.51 106.40,475.72 108.19,483.09 109.97,488.44 111.75,491.86 113.54,494.38 115.32,496.18 117.11,497.48 118.89,498.46 120.67,499.18 122.46,499.77 124.24,500.31 126.02,500.83 127.81,501.29 129.59,501.72 131.38,502.12 133.16,502.48 134.94,502.80 136.73,503.12 138.51,503.46 140.29,503.84 142.08,504.21 143.86,504.55 145.65,504.89 147.43,505.24 149.21,505.58 151.00,505.93 152.78,506.28 154.56,506.60 156.35,506.90 158.13,507.15 159.92,507.37 161.70,507.57 163.48,507.75 165.27,507.93 167.05,508.09 168.83,508.24 170.62,508.37 172.40,508.49 174.19,508.59 175.97,508.68 177.75,508.76 179.54,508.84 181.32,508.91 188.45,509.19 195.59,509.38 202.72,509.45 209.86,509.44 217.00,509.41 224.13,509.37 231.26,509.32 238.40,509.26 245.54,509.16 252.67,509.01 259.81,508.83 266.94,508.64 274.07,508.47 281.21,508.31 288.34,508.15 295.48,507.99 302.62,507.84 309.75,507.68 311.53,503.30 313.32,498.20 315.10,492.11 316.88,485.28 318.67,477.86 320.45,470.39 322.24,463.28 324.02,457.06 325.80,452.24 327.59,448.44 329.37,445.56 331.15,443.37 332.94,441.73 334.72,440.36 336.51,439.20 338.29,438.19 340.07,437.32 341.86,436.57 343.64,435.89 345.43,435.26 347.21,434.66 348.99,434.10 350.78,433.57 352.56,433.06 354.34,432.59 356.13,432.14 357.91,431.71 359.69,431.29 361.48,430.88 363.26,430.49 365.05,430.10 366.83,429.72 368.61,429.35 370.40,429.00 372.18,428.66 373.96,428.33 375.75,428.01 377.53,427.71 379.32,427.42 381.10,427.15 388.23,426.08 395.37,425.21 402.50,424.75 409.64,424.44 416.77,424.19 423.91,424.00 431.04,423.89 438.18,423.86 445.31,423.86 452.45,423.85 459.58,423.84 466.72,423.84 473.85,423.84 480.99,423.86 488.12,423.91 495.26,424.01 502.39,424.15 509.53,424.30 516.66,424.45 523.80,424.60 530.94,424.74 538.07,424.89 545.21,425.05 552.34,425.22 559.48,425.40 566.61,425.57 573.75,425.75 580.88,425.93 588.01,426.10 595.15,426.28 602.28,426.47 609.42,426.65 616.56,426.84 623.69,427.02 630.83,427.20 637.96,427.38 645.10,427.56 652.23,427.74 659.37,427.92 666.50,428.10" fill="none" stroke="#6f60bd" stroke-opacity="0.45" stroke-width="2"/>
<polyline points="95.70,430.80 97.48,438.13 99.27,445.46 101.05,452.79 102.84,460.11 104.62,468.06 106.40,476.42 108.19,483.98 109.97,489.50 111.75,493.35 113.54,496.72 115.32,499.52 117.11,501.71 118.89,503.39 120.67,504.79 122.46,505.99 124.24,507.05 126.02,508.01 127.81,508.87 129.59,509.63 131.38,510.33 133.16,510.95 134.94,511.51 136.73,512.03 138.51,512.55 140.29,513.07 142.08,513.59 143.86,514.06 145.65,514.52 147.43,514.98 149.21,515.43 151.00,515.85 152.78,516.25 154.56,516.62 156.35,516.96 158.13,517.25 159.92,517.49 161.70,517.71 163.48,517.93 165.27,518.13 167.05,518.31 168.83,518.48 170.62,518.63 172.40,518.76 174.19,518.88 175.97,518.98 177.75,519.07 179.54,519.16 181.32,519.24 188.45,519.55 195.59,519.77 202.72,519.85 209.86,519.84 217.00,519.81 224.13,519.76 231.26,519.70 238.40,519.63 245.54,519.52 252.67,519.35 259.81,519.14 266.94,518.93 274.07,518.74 281.21,518.56 288.34,518.38 295.48,518.20 302.62,518.02 309.75,517.84 311.53,512.91 313.32,507.14 315.10,500.42 316.88,493.00 318.67,485.00 320.45,476.96 322.24,469.35 324.02,462.72 325.80,457.58 327.59,453.51 329.37,450.38 331.15,448.00 332.94,446.20 334.72,444.66 336.51,443.36 338.29,442.23 340.07,441.24 341.86,440.37 343.64,439.59 345.43,438.87 347.21,438.18 348.99,437.53 350.78,436.91 352.56,436.32 354.34,435.77 356.13,435.25 357.91,434.75 359.69,434.26 361.48,433.78 363.26,433.32 365.05,432.86 366.83,432.43 368.61,432.00 370.40,431.59 372.18,431.19 373.96,430.80 375.75,430.43 377.53,430.08 379.32,429.74 381.10,429.41 388.23,428.15 395.37,427.10 402.50,426.47 409.64,426.02 416.77,425.63 423.91,425.32 431.04,425.09 438.18,424.94 445.31,424.85 452.45,424.78 459.58,424.72 466.72,424.67 473.85,424.64 480.99,424.62 488.12,424.64 495.26,424.71 502.39,424.81 509.53,424.94 516.66,425.08 523.80,425.21 530.94,425.35 538.07,425.49 545.21,425.64 552.34,425.80 559.48,425.97 566.61,426.14 573.75,426.31 580.88,426.48 588.01,426.65 595.15,426.83 602.28,427.00 609.42,427.18 616.56,427.36 623.69,427.54 630.83,427.72 637.96,427.90 645.10,428.08 652.23,428.25 659.37,428.43 666.50,428.61" fill="none" stroke="#6f60bd" stroke-opacity="0.58" stroke-width="2"/>
<polyline points="95.70,430.80 97.48,438.06 99.27,445.32 101.05,452.57 102.84,459.83 104.62,467.69 106.40,475.95 108.19,483.39 109.97,488.79 111.75,492.36 113.54,495.16 115.32,497.30 117.11,498.89 118.89,500.10 120.67,501.05 122.46,501.84 124.24,502.55 126.02,503.22 127.81,503.82 129.59,504.36 131.38,504.85 133.16,505.30 134.94,505.70 136.73,506.09 138.51,506.49 140.29,506.92 142.08,507.34 143.86,507.72 145.65,508.10 147.43,508.48 149.21,508.87 151.00,509.24 152.78,509.60 154.56,509.94 156.35,510.25 158.13,510.52 159.92,510.74 161.70,510.95 163.48,511.14 165.27,511.33 167.05,511.50 168.83,511.65 170.62,511.79 172.40,511.92 174.19,512.02 175.97,512.11 177.75,512.20 179.54,512.28 181.32,512.36 188.45,512.64 195.59,512.84 202.72,512.92 209.86,512.91 217.00,512.88 224.13,512.83 231.26,512.78 238.40,512.71 245.54,512.61 252.67,512.46 259.81,512.27 266.94,512.07 274.07,511.89 281.21,511.73 288.34,511.56 295.48,511.40 302.62,511.23 309.75,511.07 311.53,506.50 313.32,501.18 315.10,494.88 316.88,487.86 318.67,480.24 320.45,472.58 322.24,465.30 324.02,458.94 325.80,454.02 327.59,450.13 329.37,447.16 331.15,444.91 332.94,443.22 334.72,441.79 336.51,440.58 338.29,439.54 340.07,438.63 341.86,437.83 343.64,437.12 345.43,436.46 347.21,435.84 348.99,435.24 350.78,434.68 352.56,434.15 354.34,433.65 356.13,433.17 357.91,432.72 359.69,432.28 361.48,431.85 363.26,431.43 365.05,431.02 366.83,430.62 368.61,430.24 370.40,429.86 372.18,429.50 373.96,429.15 375.75,428.82 377.53,428.50 379.32,428.19 381.10,427.90 388.23,426.77 395.37,425.84 402.50,425.33 409.64,424.97 416.77,424.67 423.91,424.44 431.04,424.29 438.18,424.22 445.31,424.19 452.45,424.16 459.58,424.13 466.72,424.11 473.85,424.11 480.99,424.11 488.12,424.15 495.26,424.24 502.39,424.37 509.53,424.51 516.66,424.66 523.80,424.80 530.94,424.94 538.07,425.09 545.21,425.25 552.34,425.42 559.48,425.59 566.61,425.76 573.75,425.94 580.88,426.11 588.01,426.29 595.15,426.46 602.28,426.65 609.42,426.83 616.56,427.01 623.69,427.19 630.83,427.37 637.96,427.55 645.10,427.73 652.23,427.91 659.37,428.09 666.50,428.27" fill="none" stroke="#6f60bd" stroke-opacity="0.58" stroke-width="2"/>
<polyline points="95.70,430.80 97.48,438.09 99.27,445.39 101.05,452.68 102.84,459.97 104.62,467.88 106.40,476.19 108.19,483.68 109.97,489.14 111.75,492.86 113.54,495.94 115.32,498.41 117.11,500.30 118.89,501.74 120.67,502.92 122.46,503.92 124.24,504.80 126.02,505.62 127.81,506.34 129.59,507.00 131.38,507.59 133.16,508.13 134.94,508.61 136.73,509.06 138.51,509.52 140.29,510.00 142.08,510.46 143.86,510.89 145.65,511.31 147.43,511.73 149.21,512.15 151.00,512.55 152.78,512.93 154.56,513.28 156.35,513.60 158.13,513.88 159.92,514.12 161.70,514.33 163.48,514.54 165.27,514.73 167.05,514.90 168.83,515.06 170.62,515.21 172.40,515.34 174.19,515.45 175.97,515.54 177.75,515.63 179.54,515.72 181.32,515.80 188.45,516.10 195.59,516.31 202.72,516.39 209.86,516.37 217.00,516.34 224.13,516.30 231.26,516.24 238.40,516.17 245.54,516.07 252.67,515.90 259.81,515.71 266.94,515.50 274.07,515.31 281.21,515.14 288.34,514.97 295.48,514.80 302.62,514.63 309.75,514.46 311.53,509.71 313.32,504.16 315.10,497.65 316.88,490.43 318.67,482.62 320.45,474.77 322.24,467.33 324.02,460.83 325.80,455.80 327.59,451.82 329.37,448.77 331.15,446.46 332.94,444.71 334.72,443.23 336.51,441.97 338.29,440.88 340.07,439.93 341.86,439.10 343.64,438.36 345.43,437.66 347.21,437.01 348.99,436.38 350.78,435.80 352.56,435.24 354.34,434.71 356.13,434.21 357.91,433.73 359.69,433.27 361.48,432.82 363.26,432.37 365.05,431.94 366.83,431.52 368.61,431.12 370.40,430.72 372.18,430.34 373.96,429.98 375.75,429.63 377.53,429.29 379.32,428.96 381.10,428.66 388.23,427.46 395.37,426.47 402.50,425.90 409.64,425.49 416.77,425.15 423.91,424.88 431.04,424.69 438.18,424.58 445.31,424.52 452.45,424.47 459.58,424.42 466.72,424.39 473.85,424.37 480.99,424.37 488.12,424.39 495.26,424.48 502.39,424.59 509.53,424.73 516.66,424.87 523.80,425.01 530.94,425.14 538.07,425.29 545.21,425.45 552.34,425.61 559.48,425.78 566.61,425.95 573.75,426.12 580.88,426.30 588.01,426.47 595.15,426.65 602.28,426.83 609.42,427.01 616.56,427.19 623.69,427.37 630.83,427.55 637.96,427.73 645.10,427.90 652.23,428.08 659.37,428.26 666.50,428.44" fill="none" stroke="#6f60ba" stroke-width="1.8" stroke-dasharray="9 7"/>
<polyline points="95.70,430.80 97.48,431.85 99.27,432.50 101.05,432.79 102.84,432.73 104.62,432.04 106.40,430.76 108.19,429.38 109.97,428.44 111.75,427.90 113.54,427.44 115.32,427.10 117.11,426.94 118.89,426.85 120.67,426.76 122.46,426.76 124.24,426.94 126.02,427.20 127.81,427.45 129.59,427.76 131.38,428.23 133.16,428.76 134.94,429.24 136.73,429.74 138.51,430.39 140.29,431.17 142.08,431.95 143.86,432.73 145.65,433.57 147.43,434.45 149.21,435.36 151.00,436.27 152.78,437.20 154.56,438.13 156.35,439.06 158.13,439.96 159.92,440.82 161.70,441.67 163.48,442.52 165.27,443.37 167.05,444.21 168.83,445.05 170.62,445.88 172.40,446.70 174.19,447.52 175.97,448.32 177.75,449.13 179.54,449.94 181.32,450.76 188.45,454.05 195.59,457.39 202.72,460.81 209.86,464.14 217.00,467.39 224.13,470.59 231.26,473.64 238.40,476.56 245.54,479.29 252.67,481.67 259.81,483.74 266.94,485.63 274.07,487.45 281.21,489.16 288.34,490.93 295.48,492.49 302.62,493.65 309.75,494.62 311.53,490.15 313.32,484.89 315.10,478.68 316.88,471.76 318.67,464.26 320.45,456.75 322.24,449.68 324.02,443.58 325.80,438.96 327.59,435.38 329.37,432.71 331.15,430.71 332.94,429.26 334.72,428.06 336.51,427.08 338.29,426.25 340.07,425.55 341.86,424.96 343.64,424.45 345.43,423.99 347.21,423.55 348.99,423.13 350.78,422.75 352.56,422.39 354.34,422.06 356.13,421.74 357.91,421.44 359.69,421.15 361.48,420.86 363.26,420.59 365.05,420.32 366.83,420.06 368.61,419.81 370.40,419.57 372.18,419.34 373.96,419.12 375.75,418.91 377.53,418.71 379.32,418.53 381.10,418.36 388.23,417.72 395.37,417.28 402.50,417.24 409.64,417.34 416.77,417.49 423.91,417.71 431.04,417.97 438.18,418.25 445.31,418.53 452.45,418.79 459.58,419.04 466.72,419.27 473.85,419.47 480.99,419.65 488.12,419.83 495.26,420.04 502.39,420.27 509.53,420.51 516.66,420.75 523.80,420.98 530.94,421.21 538.07,421.44 545.21,421.69 552.34,421.93 559.48,422.18 566.61,422.42 573.75,422.65 580.88,422.86 588.01,423.08 595.15,423.29 602.28,423.51 609.42,423.73 616.56,423.95 623.69,424.16 630.83,424.36 637.96,424.57 645.10,424.77 652.23,424.96 659.37,425.15 666.50,425.33" fill="none" stroke="#b75a25" stroke-width="1.8" stroke-dasharray="9.5 2 3 2"/>
<polyline points="95.70,430.80 97.48,424.56 99.27,417.92 101.05,410.91 102.84,403.56 104.62,394.97 106.40,385.37 108.19,376.50 109.97,370.10 111.75,365.85 113.54,362.30 115.32,359.49 117.11,357.44 118.89,355.91 120.67,354.64 122.46,353.65 124.24,352.94 126.02,352.39 127.81,351.90 129.59,351.56 131.38,351.44 133.16,351.44 134.94,351.44 136.73,351.47 138.51,351.67 140.29,351.97 142.08,352.29 143.86,352.64 145.65,353.06 147.43,353.52 149.21,354.01 151.00,354.52 152.78,355.07 154.56,355.65 156.35,356.25 158.13,356.87 159.92,357.50 161.70,358.14 163.48,358.78 165.27,359.44 167.05,360.11 168.83,360.78 170.62,361.47 172.40,362.16 174.19,362.87 175.97,363.58 177.75,364.30 179.54,365.02 181.32,365.76 188.45,368.75 195.59,371.89 202.72,375.22 209.86,378.56 217.00,381.84 224.13,385.10 231.26,388.20 238.40,391.19 245.54,394.02 252.67,396.56 259.81,398.83 266.94,400.93 274.07,402.93 281.21,404.82 288.34,406.76 295.48,408.49 302.62,409.82 309.75,410.97 311.53,411.25 313.32,411.53 315.10,411.82 316.88,412.13 318.67,412.45 320.45,412.78 322.24,413.15 324.02,413.55 325.80,413.96 327.59,414.36 329.37,414.73 331.15,415.05 332.94,415.35 334.72,415.63 336.51,415.91 338.29,416.17 340.07,416.42 341.86,416.66 343.64,416.90 345.43,417.12 347.21,417.34 348.99,417.55 350.78,417.76 352.56,417.95 354.34,418.15 356.13,418.33 357.91,418.51 359.69,418.68 361.48,418.85 363.26,419.01 365.05,419.18 366.83,419.33 368.61,419.49 370.40,419.65 372.18,419.80 373.96,419.94 375.75,420.09 377.53,420.23 379.32,420.37 381.10,420.50 388.23,421.06 395.37,421.61 402.50,422.14 409.64,422.65 416.77,423.14 423.91,423.63 431.04,424.08 438.18,424.47 445.31,424.81 452.45,425.12 459.58,425.41 466.72,425.67 473.85,425.90 480.99,426.08 488.12,426.23 495.26,426.36 502.39,426.48 509.53,426.58 516.66,426.68 523.80,426.77 530.94,426.86 538.07,426.95 545.21,427.04 552.34,427.12 559.48,427.20 566.61,427.26 573.75,427.32 580.88,427.37 588.01,427.41 595.15,427.45 602.28,427.49 609.42,427.52 616.56,427.56 623.69,427.59 630.83,427.62 637.96,427.64 645.10,427.66 652.23,427.68 659.37,427.69 666.50,427.69" fill="none" stroke="#0d2c5c" stroke-width="1.8" stroke-dasharray="3.9 1.4"/>
<line x1="60" y1="430.80" x2="667" y2="430.80" stroke="#333" stroke-width="1.4"/>
<text x="54.4" y="349.00" text-anchor="end" font-size="14.5" letter-spacing="-0.45" fill="#2b2b2b">0.04</text>
<text x="54.4" y="391.90" text-anchor="end" font-size="14.5" letter-spacing="-0.45" fill="#2b2b2b">0.02</text>
<text x="54.4" y="434.80" text-anchor="end" font-size="14.5" letter-spacing="-0.45" fill="#2b2b2b">0</text>
<text x="54.4" y="477.70" text-anchor="end" font-size="14.5" letter-spacing="-0.45" fill="#2b2b2b">0.02</text>
<line x1="21.40" y1="472.95" x2="27.30" y2="472.95" stroke="#2b2b2b" stroke-width="1.25"/>
<text x="54.4" y="520.60" text-anchor="end" font-size="14.5" letter-spacing="-0.45" fill="#2b2b2b">0.04</text>
<line x1="21.40" y1="515.85" x2="27.30" y2="515.85" stroke="#2b2b2b" stroke-width="1.25"/>
<rect x="60" y="535.20" width="607.00" height="3.2" fill="#1b1b1b"/>
<line x1="95.70" y1="538.20" x2="95.70" y2="543.20" stroke="#555" stroke-width="1"/>
<text x="95.70" y="557.90" text-anchor="middle" font-size="14.5" fill="#2b2b2b">2020</text>
<line x1="167.05" y1="538.20" x2="167.05" y2="543.20" stroke="#555" stroke-width="1"/>
<text x="167.05" y="557.90" text-anchor="middle" font-size="14.5" fill="#2b2b2b">2030</text>
<line x1="238.40" y1="538.20" x2="238.40" y2="543.20" stroke="#555" stroke-width="1"/>
<text x="238.40" y="557.90" text-anchor="middle" font-size="14.5" fill="#2b2b2b">2040</text>
<line x1="309.75" y1="538.20" x2="309.75" y2="543.20" stroke="#555" stroke-width="1"/>
<text x="309.75" y="557.90" text-anchor="middle" font-size="14.5" fill="#2b2b2b">2050</text>
<line x1="381.10" y1="538.20" x2="381.10" y2="543.20" stroke="#555" stroke-width="1"/>
<text x="381.10" y="557.90" text-anchor="middle" font-size="14.5" fill="#2b2b2b">2060</text>
<line x1="452.45" y1="538.20" x2="452.45" y2="543.20" stroke="#555" stroke-width="1"/>
<text x="452.45" y="557.90" text-anchor="middle" font-size="14.5" fill="#2b2b2b">2070</text>
<line x1="523.80" y1="538.20" x2="523.80" y2="543.20" stroke="#555" stroke-width="1"/>
<text x="523.80" y="557.90" text-anchor="middle" font-size="14.5" fill="#2b2b2b">2080</text>
<line x1="595.15" y1="538.20" x2="595.15" y2="543.20" stroke="#555" stroke-width="1"/>
<text x="595.15" y="557.90" text-anchor="middle" font-size="14.5" fill="#2b2b2b">2090</text>
<line x1="666.50" y1="538.20" x2="666.50" y2="543.20" stroke="#555" stroke-width="1"/>
<text x="666.50" y="557.90" text-anchor="middle" font-size="14.5" fill="#2b2b2b">2100</text>
<text x="361.5" y="581.2" text-anchor="middle" font-size="18" letter-spacing="-0.5" fill="#2b2b2b">Year</text>
<text transform="translate(13.7,436.4) rotate(-90)" text-anchor="middle" font-size="18" fill="#2b2b2b">Temperature effect (°C)</text>
</svg>
</body></html>
